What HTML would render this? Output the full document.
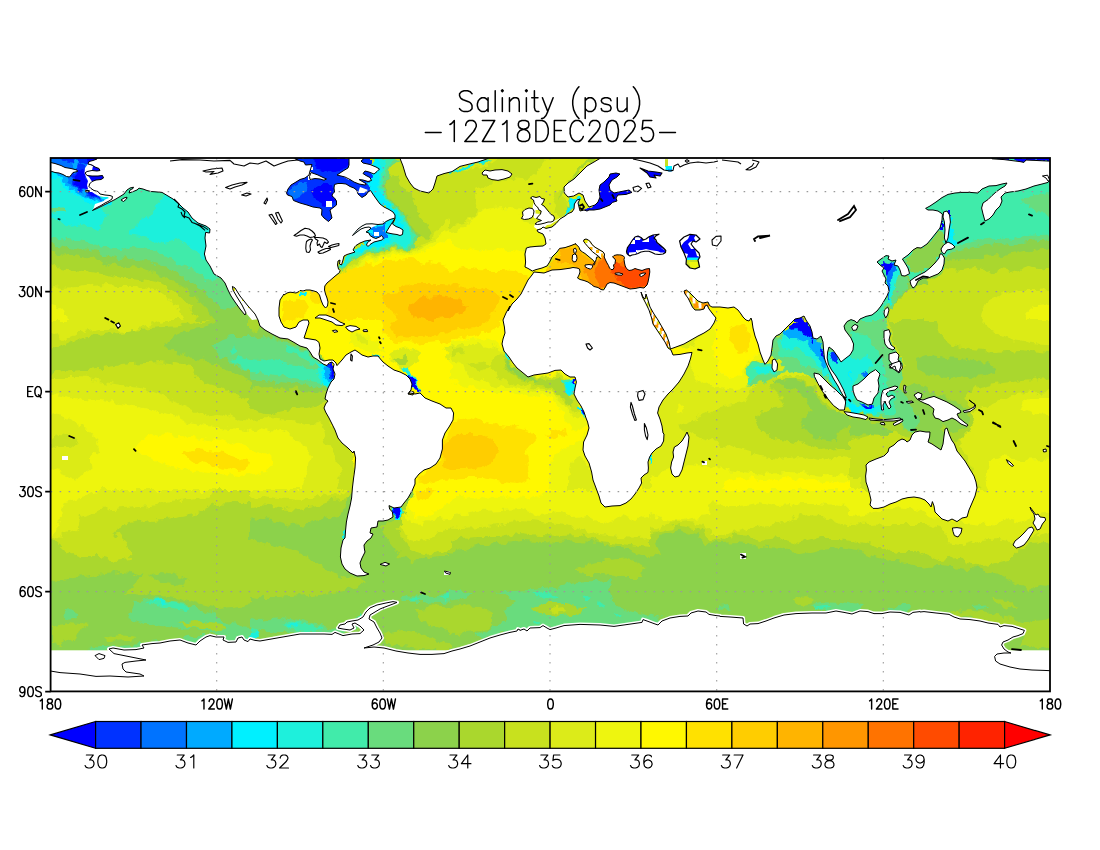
<!DOCTYPE html>
<html><head><meta charset="utf-8"><title>Salinity (psu)</title>
<style>html,body{margin:0;padding:0;background:#fff;font-family:"Liberation Sans",sans-serif}svg{display:block}</style></head><body>
<svg width="1100" height="850" viewBox="0 0 1100 850">
<rect width="1100" height="850" fill="#fff"/>
<defs><clipPath id="plot"><rect x="50.6" y="158.0" width="999.4" height="533.4"/></clipPath></defs>
<g clip-path="url(#plot)">
<defs><filter id="jag" x="0" y="0" width="1100" height="850" filterUnits="userSpaceOnUse"><feTurbulence type="fractalNoise" baseFrequency="0.11" numOctaves="3" seed="7" result="n"/><feDisplacementMap in="SourceGraphic" in2="n" scale="10" xChannelSelector="R" yChannelSelector="G"/></filter></defs>
<g filter="url(#jag)">
<defs>
<clipPath id="t0"><rect x="30" y="140" width="220" height="180"/></clipPath>
<clipPath id="t1"><rect x="250" y="140" width="200" height="180"/></clipPath>
<clipPath id="t2"><rect x="450" y="140" width="200" height="180"/></clipPath>
<clipPath id="t3"><rect x="650" y="140" width="200" height="180"/></clipPath>
<clipPath id="t4"><rect x="850" y="140" width="220" height="180"/></clipPath>
<clipPath id="t5"><rect x="30" y="320" width="220" height="170"/></clipPath>
<clipPath id="t6"><rect x="250" y="320" width="200" height="170"/></clipPath>
<clipPath id="t7"><rect x="450" y="320" width="200" height="170"/></clipPath>
<clipPath id="t8"><rect x="650" y="320" width="200" height="170"/></clipPath>
<clipPath id="t9"><rect x="850" y="320" width="220" height="170"/></clipPath>
<clipPath id="t10"><rect x="30" y="490" width="220" height="180"/></clipPath>
<clipPath id="t11"><rect x="250" y="490" width="200" height="180"/></clipPath>
<clipPath id="t12"><rect x="450" y="490" width="200" height="180"/></clipPath>
<clipPath id="t13"><rect x="650" y="490" width="200" height="180"/></clipPath>
<clipPath id="t14"><rect x="850" y="490" width="220" height="180"/></clipPath>
</defs>
<g clip-path="url(#t0)">
<rect x="25" y="133" width="250" height="212" fill="#41ebaa"/>
<polygon points="130.0,234.0 136.0,226.0 144.0,218.0 152.0,212.0 160.0,202.0 164.0,193.0 180.0,193.0 220.0,230.0 216.0,242.0 212.0,258.0 208.0,262.0 200.0,254.0 194.0,250.0 188.0,246.0 178.0,240.0 168.0,242.0 158.0,244.0 148.0,238.0 140.0,236.0" fill="#1ef0dc"/>
<polygon points="50.0,174.0 58.0,177.0 62.0,184.0 70.0,190.0 80.0,195.0 90.0,201.0 100.0,208.0 108.0,211.0 106.0,218.0 104.0,226.0 94.0,230.0 84.0,224.0 76.0,227.0 68.0,226.0 60.0,220.0 50.0,218.0 40.0,218.0 40.0,174.0" fill="#1ef0dc"/>
<polygon points="51.0,207.0 64.0,206.4 65.0,212.4 52.0,213.6" fill="#69dc7d"/>
<polygon points="40.0,154.0 92.0,154.0 100.0,176.0 100.0,196.0 110.0,198.0 108.0,205.0 98.0,207.0 88.0,201.6 80.0,197.0 70.0,192.0 62.0,186.0 58.0,179.0 50.0,175.0 40.0,175.0" fill="#00f0ff"/>
<polygon points="40.0,154.0 92.0,154.0 98.0,176.0 100.0,195.0 106.0,200.0 100.0,203.6 90.0,199.0 80.0,194.0 70.0,188.0 62.0,182.0 58.0,174.0 52.0,170.0 40.0,166.0" fill="#00aaff"/>
<polygon points="48.0,154.0 92.0,154.0 98.0,178.0 100.0,195.0 102.0,200.0 94.0,200.0 86.0,195.0 78.0,189.0 70.0,184.0 64.0,178.0 62.0,172.0 56.0,166.0 48.0,162.0" fill="#0073ff"/>
<polygon points="48.0,154.0 90.0,154.0 86.0,162.0 78.0,164.0 70.0,162.0 60.0,160.0 52.0,158.0" fill="#0032ff"/>
<polygon points="70.0,174.0 76.0,168.0 83.0,164.0 89.0,170.0 90.0,180.0 92.0,190.0 100.0,195.6 100.0,199.0 93.0,198.0 85.0,193.0 77.0,188.0 72.0,182.0" fill="#0032ff"/>
<polygon points="74.0,177.0 80.0,171.0 85.0,169.0 88.0,180.0 90.0,190.0 98.0,195.0 98.0,198.0 92.0,196.0 84.0,191.0 77.0,186.0 74.0,182.0" fill="#0000ff"/>
<polygon points="73.0,158.4 80.0,160.0 79.0,169.0 74.0,172.0" fill="#00aaff"/>
<polygon points="85.0,154.0 107.0,154.0 107.0,190.0 100.0,193.0 92.0,186.0 89.0,174.0" fill="#0000ff"/>
<polygon points="40.0,238.0 50.0,238.0 60.0,239.0 76.0,241.0 92.0,244.0 108.0,248.0 120.0,250.0 132.0,248.0 148.0,250.0 160.0,254.0 172.0,258.0 184.0,266.0 196.0,272.0 206.0,278.0 212.0,282.0 216.0,278.0 260.0,278.0 260.0,330.0 40.0,330.0" fill="#69dc7d"/>
<polygon points="40.0,244.0 50.0,244.0 60.0,245.6 76.0,248.0 92.0,251.0 108.0,256.0 120.0,259.0 132.0,258.0 148.0,261.0 160.0,265.0 172.0,270.0 184.0,278.0 196.0,286.0 206.0,294.0 216.0,302.0 224.0,308.0 232.0,310.0 237.0,304.0 260.0,304.0 260.0,330.0 40.0,330.0" fill="#8cd24b"/>
<polygon points="40.0,251.0 50.0,251.0 60.0,254.0 76.0,256.0 92.0,259.0 108.0,264.0 120.0,267.0 132.0,267.0 148.0,270.0 160.0,274.0 172.0,280.0 184.0,288.0 196.0,298.0 206.0,308.0 214.0,320.0 214.0,330.0 40.0,330.0" fill="#aad72d"/>
<polygon points="40.0,262.0 50.0,262.0 60.0,268.0 76.0,270.0 92.0,272.0 108.0,275.0 120.0,278.0 132.0,278.0 148.0,280.0 160.0,283.0 172.0,290.0 184.0,300.0 192.0,310.0 198.0,320.0 198.0,330.0 40.0,330.0" fill="#c8e11e"/>
<polygon points="40.0,288.0 50.0,288.0 60.0,289.0 76.0,288.0 92.0,286.0 108.0,285.0 120.0,286.0 132.0,286.0 148.0,288.0 160.0,292.0 172.0,300.0 180.0,310.0 184.0,320.0 184.0,330.0 40.0,330.0" fill="#dceb19"/>
<polygon points="40.0,304.0 50.0,304.0 58.0,306.0 66.0,312.0 68.0,320.0 68.0,330.0 40.0,330.0" fill="#eef50f"/>
<polygon points="232.0,286.0 240.0,294.0 248.0,304.0 260.0,314.0 260.0,290.0" fill="#c8e11e"/>
</g>
<g clip-path="url(#t1)">
<rect x="225" y="133" width="250" height="212" fill="#c8e11e"/>
<polygon points="285.0,156.0 372.0,156.0 372.0,186.0 368.0,193.0 360.0,198.0 340.0,224.0 320.0,224.0 285.0,204.0" fill="#0032ff"/>
<polygon points="287.0,192.0 290.0,187.0 298.0,181.0 304.0,179.6 309.0,180.0 311.0,172.0 313.0,169.0 313.0,156.0 349.0,156.0 349.0,164.0 344.0,170.0 338.0,175.0 344.0,177.0 349.0,180.0 356.0,185.0 360.0,187.0 368.0,190.0 364.0,193.0 358.0,193.0 354.0,189.0 348.0,185.0 340.0,182.0 333.0,183.0 332.4,190.0 334.0,195.0 337.0,201.0 336.0,207.0 332.4,210.0 332.0,216.0 329.0,220.4 325.0,218.0 321.6,213.6 321.0,208.0 316.0,206.0 310.0,203.0 302.0,201.0 294.0,199.0 289.0,196.0" fill="#0032ff"/>
<polygon points="288.0,192.0 292.0,186.0 300.0,182.0 308.0,182.0 306.0,190.0 300.0,196.0 294.0,198.0" fill="#0073ff"/>
<polygon points="312.0,190.0 320.0,184.0 332.0,184.0 333.0,196.0 336.0,202.0 328.0,206.0 320.0,204.0 314.0,198.0" fill="#0000ff"/>
<polygon points="313.0,156.0 349.0,156.0 349.0,164.0 344.0,170.0 334.0,172.0 324.0,170.0 314.0,168.0" fill="#0000ff"/>
<polygon points="384.0,176.0 392.0,174.0 400.0,182.0 406.0,190.0 412.0,196.0 416.0,206.0 420.0,216.0 428.0,226.0 432.0,234.0 428.0,238.0 420.0,236.0 414.0,228.0 408.0,218.0 402.0,210.0 394.0,204.0 388.0,196.0 385.0,186.0" fill="#aad72d"/>
<polygon points="380.0,170.0 388.0,172.0 386.0,186.0 389.0,197.0 395.0,205.0 403.0,211.0 409.0,219.0 415.0,229.0 421.0,237.0 416.0,240.0 410.0,234.0 404.0,224.0 398.0,216.0 391.0,209.0 385.0,202.0 381.0,190.0 380.0,180.0" fill="#8cd24b"/>
<polygon points="460.0,210.0 452.0,216.0 444.0,222.0 436.0,230.0 432.0,238.0 424.0,244.0 416.0,248.0 410.0,252.0 400.0,250.0 388.0,251.0 378.0,254.0 368.0,257.0 358.0,262.0 350.0,268.0 344.0,274.0 320.0,330.0 470.0,330.0 470.0,210.0" fill="#dceb19"/>
<polygon points="470.0,224.0 460.0,224.0 452.0,228.0 444.0,232.0 436.0,238.0 430.0,244.0 420.0,248.0 412.0,253.0 400.0,252.0 388.0,253.0 378.0,256.0 368.0,259.0 360.0,264.0 352.0,270.0 346.0,276.0 320.0,330.0 470.0,330.0" fill="#eef50f"/>
<polygon points="470.0,238.0 460.0,238.0 448.0,240.0 436.0,244.0 428.0,249.0 420.0,252.0 412.0,256.0 400.0,255.0 388.0,256.0 378.0,259.0 370.0,262.0 362.0,267.0 354.0,273.0 348.0,278.0 320.0,330.0 470.0,330.0" fill="#fff800"/>
<polygon points="470.0,270.0 460.0,270.0 448.0,266.0 436.0,264.0 424.0,262.0 412.0,260.0 400.0,259.0 388.0,260.0 378.0,263.0 370.0,267.0 362.0,272.0 355.0,278.0 348.0,284.0 340.0,290.0 332.0,296.0 328.0,302.0 328.0,330.0 470.0,330.0" fill="#ffe100"/>
<polygon points="376.0,158.4 400.0,158.4 398.0,164.0 390.0,168.0 387.0,176.0 385.0,188.0 388.0,198.0 394.0,206.0 402.0,212.0 408.0,220.0 414.0,230.0 419.0,238.0 416.0,246.0 410.0,250.0 400.0,248.0 388.0,249.0 378.0,252.0 366.0,254.0 356.0,259.0 348.0,265.0 342.0,272.0 338.0,270.0 352.0,250.0 368.0,242.0 384.0,238.0 396.0,219.0 378.0,200.0 368.0,190.0 378.0,170.0" fill="#69dc7d"/>
<polygon points="376.0,158.4 396.0,158.4 390.0,165.0 385.0,172.0 383.0,182.0 384.0,192.0 389.0,201.0 396.0,209.0 404.0,216.0 410.0,226.0 415.0,236.0 414.0,244.0 408.0,248.0 400.0,246.0 388.0,247.0 378.0,250.0 366.0,252.0 356.0,257.0 348.0,263.0 343.0,269.0 338.0,270.0 352.0,250.0 368.0,242.0 384.0,238.0 396.0,219.0 378.0,200.0 368.0,190.0 378.0,170.0" fill="#41ebaa"/>
<polygon points="376.0,158.4 386.0,158.4 383.0,168.0 381.0,180.0 382.0,191.0 387.0,200.0 394.0,208.0 402.0,216.0 408.0,226.0 412.0,236.0 410.0,243.0 404.0,246.0 396.0,244.0 388.0,245.0 378.0,248.0 366.0,250.0 356.0,255.0 349.0,260.0 344.0,266.0 338.0,270.0 352.0,250.0 368.0,242.0 384.0,238.0 396.0,219.0 378.0,200.0 368.0,190.0 378.0,170.0" fill="#1ef0dc"/>
<polygon points="374.0,158.4 380.0,158.4 379.0,170.0 378.0,182.0 380.0,192.0 386.0,201.0 393.0,209.0 400.0,218.0 403.0,228.0 398.0,230.0 394.0,219.0 378.0,200.0 368.0,190.0 370.0,180.0" fill="#00f0ff"/>
<polygon points="368.0,244.0 380.0,241.0 388.0,238.0 392.0,242.0 384.0,245.0 376.0,247.0 368.0,250.0 360.0,252.0 356.0,250.0" fill="#00f0ff"/>
<polygon points="352.0,222.0 392.0,218.0 394.0,236.0 368.0,244.0 352.0,238.0" fill="#00f0ff"/>
<polygon points="370.0,227.0 385.0,226.0 385.0,238.0 372.0,238.0" fill="#0073ff"/>
<polygon points="270.0,288.0 328.0,288.0 328.0,330.0 270.0,330.0" fill="#fff800"/>
<polygon points="284.0,302.0 300.0,298.0 308.0,304.0 306.0,316.0 292.0,320.0 282.0,320.0" fill="#ffe100"/>
<polygon points="300.0,290.8 306.0,290.8 305.6,294.8 301.0,295.2" fill="#00f0ff"/>
<polygon points="240.0,288.0 262.0,288.0 262.0,330.0 240.0,330.0" fill="#aad72d"/>
</g>
<g clip-path="url(#t2)">
<rect x="425" y="133" width="250" height="212" fill="#dceb19"/>
<polygon points="440.0,174.0 452.0,172.0 464.0,170.0 480.0,168.0 492.0,162.0 500.0,156.0 540.0,156.0 544.0,166.0 536.0,174.0 524.0,180.0 512.0,178.0 500.0,182.0 488.0,183.0 476.0,190.0 478.0,202.0 476.0,214.0 464.0,224.0 452.0,226.0 440.0,228.0" fill="#c8e11e"/>
<polygon points="552.0,196.0 560.0,190.0 564.0,198.0 568.0,208.0 560.0,218.0 554.0,214.0 556.0,204.0" fill="#c8e11e"/>
<polygon points="592.0,162.0 600.0,158.4 592.0,156.0 580.0,168.0 572.0,178.0 568.0,184.0 560.0,190.0 558.0,198.0 564.0,192.0 570.0,184.0 580.0,172.0" fill="#aad72d"/>
<polygon points="440.0,171.0 452.0,169.0 462.0,166.0 474.0,162.4 486.0,158.4 492.0,158.4 490.0,161.0 478.0,165.0 466.0,169.0 454.0,172.4 440.0,175.0" fill="#41ebaa"/>
<polygon points="440.0,172.4 452.0,170.4 462.0,167.6 474.0,163.6 486.0,159.2 487.0,160.4 476.0,164.4 464.0,168.4 452.0,171.6 440.0,174.0" fill="#00f0ff"/>
<polygon points="570.0,198.0 580.0,197.0 579.0,204.4 571.0,211.0 564.0,217.0 561.0,215.0 567.0,208.4" fill="#69dc7d"/>
<polygon points="572.0,198.0 580.0,198.0 578.0,204.0 570.0,210.0 564.0,216.0 562.0,214.0 568.0,208.0" fill="#00f0ff"/>
<polygon points="440.0,234.0 452.0,232.0 464.0,228.0 474.0,218.0 482.0,210.0 492.0,208.0 506.0,207.0 520.0,210.0 522.0,220.0 534.0,225.0 540.0,234.0 546.0,240.0 546.0,246.0 528.0,247.0 524.0,254.0 526.0,270.0 536.0,270.0 520.0,294.0 504.0,330.0 440.0,330.0" fill="#eef50f"/>
<polygon points="440.0,243.0 452.0,244.4 468.0,249.0 484.0,251.0 500.0,249.0 512.0,251.0 524.0,254.0 525.0,268.0 532.0,272.0 520.0,294.0 504.0,330.0 440.0,330.0" fill="#fff800"/>
<polygon points="440.0,272.0 456.0,270.0 472.0,268.0 488.0,270.0 504.0,270.0 520.0,272.0 528.0,278.0 524.0,288.0 518.0,298.0 510.0,308.0 504.0,330.0 440.0,330.0" fill="#ffe100"/>
<polygon points="534.0,269.0 548.0,267.0 560.0,248.0 580.0,241.0 588.0,239.0 660.0,268.0 660.0,290.0 576.0,290.0 576.0,273.0 534.0,274.4" fill="#ffcd00"/>
<polygon points="534.0,269.0 546.0,268.0 546.0,273.0 534.0,273.6" fill="#fff800"/>
<polygon points="560.0,250.0 572.0,248.0 584.0,254.0 596.0,262.0 660.0,262.0 660.0,290.0 580.0,290.0 580.0,270.0 568.0,264.0 558.0,262.0" fill="#ffb400"/>
<polygon points="584.0,268.0 596.0,259.0 606.0,254.0 660.0,254.0 660.0,290.0 592.0,290.0" fill="#ff9600"/>
<polygon points="594.0,270.0 600.0,258.0 612.0,262.0 660.0,262.0 660.0,290.0 600.0,288.0" fill="#ff7300"/>
<polygon points="610.0,270.0 616.0,262.0 624.0,266.0 660.0,268.0 660.0,286.0 632.0,288.0 620.0,282.0" fill="#ff4b00"/>
<polygon points="586.0,240.4 589.6,240.4 589.6,244.4 586.0,244.4" fill="#eef50f"/>
<polygon points="584.0,212.0 594.0,204.0 598.0,196.0 598.0,182.0 608.0,170.0 624.0,170.0 640.0,188.0 636.0,196.0 616.0,204.0 600.0,212.0" fill="#0000ff"/>
<polygon points="646.0,171.0 660.0,170.0 660.0,178.0 648.0,176.0" fill="#0000ff"/>
</g>
<g clip-path="url(#t3)">
<rect x="625" y="133" width="250" height="212" fill="#dceb19"/>
<polygon points="638.0,244.0 640.0,238.0 648.0,236.0 658.0,234.0 652.0,240.0 660.0,244.0 666.0,250.0 665.0,253.0 658.0,254.0 648.0,252.0 640.0,252.4 636.0,251.0" fill="#0000ff"/>
<polygon points="679.6,241.0 683.0,237.0 689.0,234.4 696.0,235.0 700.0,240.0 695.0,241.0 692.0,244.0 694.0,249.0 699.0,253.0 700.0,257.0 698.0,260.0 686.0,259.6 684.0,253.0 681.0,247.0" fill="#0000ff"/>
<polygon points="688.0,257.0 699.0,257.0 698.4,260.0 687.0,260.0" fill="#00f0ff"/>
<polygon points="686.4,259.6 698.4,259.6 699.6,267.0 695.0,269.6 689.0,268.0 685.6,263.0" fill="#c8e11e"/>
<polygon points="689.0,262.0 698.0,262.0 698.4,268.0 694.0,269.6 690.0,267.0" fill="#eef50f"/>
<polygon points="684.0,291.0 687.0,290.0 690.0,294.0 694.0,298.0 698.0,302.0 704.0,304.0 709.0,303.0 710.0,306.0 706.0,309.0 700.0,310.0 694.0,308.0 691.0,303.0 688.0,298.0 685.0,294.0" fill="#ff9600"/>
<polygon points="709.0,304.0 720.0,307.0 734.0,306.0 744.0,314.0 748.0,330.0 708.0,330.0 708.0,308.0" fill="#fff800"/>
<polygon points="640.0,290.0 646.0,298.0 652.0,308.0 658.0,320.0 652.0,322.0 646.0,310.0 640.0,298.0" fill="#ff9600"/>
<polygon points="636.0,268.0 652.0,268.0 652.0,290.0 636.0,290.0" fill="#ff4b00"/>
<polygon points="647.0,171.0 662.0,171.6 660.0,176.0 652.0,177.0" fill="#0000ff"/>
<polygon points="665.0,158.4 670.0,158.4 670.0,167.0 665.0,167.0" fill="#8cd24b"/>
<polygon points="664.0,167.0 671.0,166.0 670.0,170.0 663.6,170.8" fill="#00f0ff"/>
<polygon points="792.0,316.0 804.0,315.0 806.0,330.0 790.0,330.0" fill="#0000ff"/>
</g>
<g clip-path="url(#t4)">
<rect x="825" y="133" width="250" height="212" fill="#41ebaa"/>
<polygon points="886.0,278.0 900.0,274.0 910.0,280.0 928.0,278.0 944.0,266.0 952.0,270.0 900.0,330.0 880.0,330.0 886.0,310.0" fill="#8cd24b"/>
<polygon points="900.0,302.0 908.0,290.0 924.0,284.4 940.0,274.4 948.0,270.0 952.0,278.0 900.0,330.0 892.0,330.0" fill="#aad72d"/>
<polygon points="948.0,250.0 952.0,248.0 964.0,244.0 980.0,240.0 996.0,238.0 1012.0,240.0 1028.0,236.0 1040.0,235.0 1060.0,234.0 1060.0,330.0 880.0,330.0 890.0,310.0 900.0,298.0 908.0,290.0 924.0,284.0 940.0,274.0" fill="#69dc7d"/>
<polygon points="949.0,252.0 964.0,249.0 980.0,246.0 996.0,244.0 1012.0,245.0 1028.0,242.0 1060.0,240.0 1060.0,330.0 880.0,330.0 890.0,310.0 900.0,298.0 908.0,290.0 924.0,284.0 940.0,274.0 944.0,262.0" fill="#8cd24b"/>
<polygon points="946.0,258.0 960.0,262.0 976.0,258.0 992.0,256.0 1008.0,254.0 1028.0,250.0 1060.0,248.0 1060.0,330.0 880.0,330.0 890.0,310.0 900.0,298.0 908.0,290.0 924.0,284.0 940.0,274.0 944.0,266.0" fill="#aad72d"/>
<polygon points="944.0,268.0 960.0,270.0 976.0,268.0 988.0,274.0 1000.0,270.0 1012.0,272.0 1028.0,266.0 1040.0,270.0 1060.0,266.0 1060.0,330.0 886.0,330.0 890.0,310.0 900.0,298.0 908.0,290.0 924.0,284.0 940.0,274.0" fill="#c8e11e"/>
<polygon points="980.0,330.0 984.0,306.0 992.0,298.0 1004.0,294.0 1020.0,290.0 1036.0,290.0 1060.0,288.0 1060.0,330.0" fill="#dceb19"/>
<polygon points="1020.0,330.0 1028.0,310.0 1040.0,304.0 1060.0,302.0 1060.0,330.0" fill="#eef50f"/>
<polygon points="906.0,260.0 916.0,248.0 928.0,244.0 940.0,230.0 944.0,234.0 942.0,254.0 934.0,266.0 920.0,272.0 910.0,274.0" fill="#8cd24b"/>
<polygon points="892.0,262.0 902.0,270.0 904.0,278.0 910.0,282.0 906.0,290.0 898.0,298.0 892.0,308.0 886.0,310.0 888.0,290.0 886.0,278.0" fill="#69dc7d"/>
<polygon points="888.0,262.0 898.0,266.0 900.0,274.0 896.0,282.0 893.0,294.0 890.0,306.0 886.0,308.0 888.0,290.0 885.6,278.0" fill="#1ef0dc"/>
<polygon points="887.0,263.0 894.0,265.0 895.0,272.0 891.0,278.0 890.0,290.0 888.0,302.0 886.4,302.0 888.0,288.0 885.6,276.0" fill="#0073ff"/>
<polygon points="883.0,260.0 890.0,262.0 892.4,268.0 888.0,270.0 885.6,274.0 883.6,268.0" fill="#0000ff"/>
<polygon points="948.0,216.0 952.0,218.0 953.0,230.0 954.0,238.0 958.0,242.0 954.0,246.0 949.0,242.0 949.6,230.0" fill="#00f0ff"/>
<polygon points="944.0,211.0 949.0,211.0 949.0,215.0 944.0,215.0" fill="#0000ff"/>
<polygon points="941.0,223.0 943.0,223.0 943.0,230.0 941.0,230.0" fill="#0000ff"/>
<polygon points="1020.0,198.0 1032.0,196.0 1060.0,195.0 1060.0,216.0 1038.0,214.0 1032.0,208.0 1024.0,202.0" fill="#69dc7d"/>
<polygon points="992.0,156.0 1060.0,156.0 1060.0,159.6 1020.0,161.0 1000.0,159.6" fill="#0000ff"/>
</g>
<g clip-path="url(#t5)">
<rect x="25" y="295" width="250" height="220" fill="#eef50f"/>
<polygon points="40.0,320.0 260.0,320.0 260.0,432.0 230.0,428.0 206.0,426.0 188.0,422.0 176.0,416.0 152.0,410.0 128.0,404.0 100.0,400.0 70.0,398.0 50.0,394.0 40.0,394.0" fill="#dceb19"/>
<polygon points="40.0,332.0 50.0,331.0 64.0,339.0 80.0,333.0 100.0,329.0 120.0,329.0 130.0,333.0 140.0,327.0 152.0,323.0 164.0,320.0 260.0,320.0 260.0,424.0 240.0,420.0 220.0,414.0 204.0,416.0 188.0,408.0 164.0,396.0 140.0,388.0 116.0,384.0 80.0,378.0 50.0,378.0 40.0,378.0" fill="#c8e11e"/>
<polygon points="40.0,356.0 70.0,342.0 90.0,336.0 120.0,332.0 150.0,328.0 180.0,326.0 210.0,320.0 260.0,320.0 260.0,406.0 240.0,396.0 220.0,388.0 204.0,384.0 200.0,378.0 190.0,366.0 160.0,362.0 130.0,364.0 100.0,368.0 70.0,370.0 40.0,374.0" fill="#aad72d"/>
<polygon points="180.0,332.0 200.0,328.0 216.0,320.0 260.0,320.0 260.0,386.0 240.0,378.0 230.0,372.0 220.0,366.0 204.0,360.0 188.0,358.0 176.0,352.0 164.0,348.0 170.0,340.0" fill="#8cd24b"/>
<polygon points="210.0,346.0 220.0,340.0 232.0,336.0 246.0,336.0 260.0,334.0 260.0,374.0 248.0,370.0 236.0,366.0 226.0,360.0 216.0,352.0" fill="#69dc7d"/>
<polygon points="230.0,360.0 240.0,358.0 252.0,360.0 260.0,360.0 260.0,371.0 250.0,369.0 238.0,365.0" fill="#41ebaa"/>
<polygon points="229.0,350.0 234.0,345.0 236.0,350.0 232.0,354.0" fill="#41ebaa"/>
<polygon points="40.0,416.0 56.0,414.0 72.0,420.0 86.0,428.0 96.0,440.0 100.0,452.0 90.0,458.0 92.0,468.0 78.0,478.0 64.0,474.0 52.0,468.0 40.0,460.0" fill="#dceb19"/>
<polygon points="50.0,438.0 62.0,434.0 74.0,438.0 80.0,444.0 70.0,448.0 58.0,448.0 50.0,446.0" fill="#c8e11e"/>
<polygon points="136.0,448.0 144.0,438.0 160.0,434.0 180.0,436.0 200.0,438.0 220.0,440.0 240.0,444.0 260.0,448.0 260.0,474.0 240.0,476.0 220.0,474.0 200.0,472.0 180.0,468.0 160.0,462.0 144.0,456.0" fill="#fff800"/>
<polygon points="182.0,454.0 192.0,450.0 208.0,451.0 224.0,453.0 240.0,458.0 250.0,462.0 248.0,469.0 236.0,470.0 220.0,466.0 204.0,463.0 190.0,461.0" fill="#ffe100"/>
</g>
<g clip-path="url(#t6)">
<rect x="225" y="295" width="250" height="220" fill="#fff800"/>
<polygon points="240.0,320.0 258.0,320.0 280.0,338.0 306.0,352.0 324.0,366.0 334.0,380.0 326.0,404.0 336.0,432.0 352.0,448.0 356.0,500.0 240.0,500.0" fill="#dceb19"/>
<polygon points="240.0,432.0 260.0,428.0 280.0,432.0 300.0,440.0 310.0,456.0 306.0,472.0 300.0,500.0 240.0,500.0" fill="#eef50f"/>
<polygon points="240.0,448.0 256.0,450.0 270.0,456.0 274.0,464.0 264.0,472.0 248.0,475.0 240.0,474.0" fill="#fff800"/>
<polygon points="240.0,320.0 264.0,320.0 284.0,336.0 310.0,350.0 328.0,364.0 338.0,380.0 332.0,404.0 344.0,416.0 328.0,420.0 308.0,424.0 288.0,420.0 268.0,418.0 252.0,420.0 240.0,424.0" fill="#c8e11e"/>
<polygon points="326.0,416.0 336.0,432.0 352.0,448.0 356.0,500.0 336.0,500.0 340.0,472.0 334.0,456.0 324.0,440.0 320.0,424.0" fill="#c8e11e"/>
<polygon points="240.0,320.0 264.0,320.0 284.0,336.0 310.0,350.0 328.0,364.0 338.0,380.0 332.0,400.0 328.0,402.0 312.0,406.0 296.0,408.0 280.0,412.0 264.0,414.0 252.0,410.0 240.0,408.0" fill="#aad72d"/>
<polygon points="240.0,326.0 252.0,332.0 260.0,328.0 264.0,320.0 284.0,336.0 310.0,350.0 328.0,364.0 338.0,380.0 334.0,392.0 328.0,393.0 312.0,392.0 296.0,390.0 280.0,388.0 264.0,386.0 252.0,388.0 240.0,386.0" fill="#8cd24b"/>
<polygon points="240.0,342.0 252.0,338.0 264.0,336.0 276.0,338.0 288.0,342.0 300.0,348.0 312.0,354.0 326.0,364.0 334.0,380.0 328.0,388.0 312.0,386.0 296.0,384.0 280.0,382.0 264.0,380.0 252.0,380.0 240.0,378.0" fill="#69dc7d"/>
<polygon points="240.0,360.0 252.0,358.0 268.0,360.0 284.0,363.0 300.0,366.0 316.0,368.0 328.0,372.0 330.0,384.0 316.0,382.0 300.0,379.0 284.0,376.0 268.0,374.0 252.0,372.0 240.0,370.0" fill="#41ebaa"/>
<polygon points="286.0,346.0 300.0,350.0 312.0,356.0 320.0,363.0 312.0,363.0 300.0,358.0 290.0,353.0" fill="#41ebaa"/>
<polygon points="316.0,363.0 324.0,365.0 330.0,372.0 329.0,386.0 324.0,387.0 320.0,378.0 317.0,370.0" fill="#1ef0dc"/>
<polygon points="319.0,365.0 326.0,365.0 331.0,374.0 328.0,385.0 325.0,386.0 323.0,376.0" fill="#00f0ff"/>
<polygon points="323.0,367.0 328.0,366.0 333.0,376.0 330.0,382.0 327.0,380.0" fill="#00aaff"/>
<polygon points="326.0,365.0 330.0,363.0 335.0,378.0 331.0,380.0 329.0,372.0" fill="#0032ff"/>
<polygon points="328.0,363.0 331.6,362.4 335.0,374.0 332.4,378.0" fill="#0000ff"/>
<polygon points="348.0,332.0 364.0,334.0 376.0,340.0 384.0,350.0 372.0,352.0 360.0,348.0 348.0,342.0" fill="#eef50f"/>
<polygon points="356.0,336.0 368.0,337.0 368.0,344.0 358.0,343.0" fill="#dceb19"/>
<polygon points="384.0,320.0 460.0,320.0 460.0,344.0 440.0,342.0 420.0,340.0 404.0,332.0 392.0,328.0" fill="#ffe100"/>
<polygon points="388.0,354.0 400.0,350.0 412.0,348.0 420.0,354.0 416.0,364.0 408.0,370.0 400.0,368.0 392.0,362.0" fill="#dceb19"/>
<polygon points="394.0,360.0 402.0,355.0 408.0,357.0 404.0,365.0 398.0,365.0" fill="#aad72d"/>
<polygon points="444.0,348.0 460.0,344.0 460.0,360.0 448.0,358.0" fill="#dceb19"/>
<polygon points="402.0,368.0 408.0,370.0 414.0,376.0 421.0,389.0 419.0,393.0 410.0,389.0 406.0,378.0" fill="#1ef0dc"/>
<polygon points="407.0,375.0 412.0,376.0 416.0,382.0 420.0,390.0 416.0,392.0 412.0,388.0 409.0,382.0" fill="#0000ff"/>
<polygon points="372.0,354.0 380.0,355.0 381.0,358.0 374.0,357.0" fill="#00f0ff"/>
</g>
<g clip-path="url(#t7)">
<rect x="425" y="295" width="250" height="220" fill="#fff800"/>
<polygon points="440.0,320.0 500.0,320.0 500.0,326.0 484.0,332.0 468.0,336.0 452.0,338.0 440.0,336.0" fill="#ffe100"/>
<polygon points="440.0,342.0 456.0,340.0 472.0,338.0 488.0,340.0 500.0,346.0 508.0,356.0 520.0,366.0 532.0,376.0 548.0,375.0 564.0,372.0 576.0,380.0 578.0,396.0 584.0,408.0 588.0,424.0 580.0,432.0 568.0,424.0 560.0,408.0 552.0,400.0 540.0,396.0 524.0,394.0 508.0,392.0 492.0,392.0 476.0,388.0 460.0,384.0 448.0,376.0 440.0,372.0" fill="#eef50f"/>
<polygon points="446.0,348.0 460.0,344.0 476.0,344.0 490.0,346.0 502.0,352.0 512.0,362.0 524.0,372.0 536.0,378.0 552.0,377.0 564.0,375.0 574.0,382.0 576.0,394.0 581.0,408.0 580.0,420.0 572.0,416.0 564.0,404.0 556.0,396.0 544.0,392.0 528.0,390.0 512.0,388.0 496.0,386.0 480.0,380.0 468.0,376.0 464.0,366.0 452.0,360.0" fill="#dceb19"/>
<polygon points="490.0,366.0 500.0,354.0 506.0,356.0 516.0,366.0 528.0,376.0 544.0,378.0 560.0,375.0 572.0,382.0 574.0,394.0 579.0,408.0 576.0,414.0 568.0,406.0 560.0,396.0 548.0,390.0 532.0,387.0 516.0,384.0 500.0,380.0" fill="#c8e11e"/>
<polygon points="448.0,350.0 460.0,347.0 464.0,354.0 452.0,357.0" fill="#c8e11e"/>
<polygon points="466.0,364.0 480.0,361.0 492.0,366.0 480.0,370.0" fill="#c8e11e"/>
<polygon points="502.0,358.0 508.0,360.0 518.0,369.0 528.0,377.0 544.0,380.0 558.0,378.0 568.0,384.0 570.0,394.0 574.0,404.0 571.0,408.0 564.0,398.0 552.0,388.0 536.0,384.0 520.0,380.0 508.0,372.0" fill="#aad72d"/>
<polygon points="504.0,360.0 510.0,363.0 520.0,372.0 528.0,378.0 540.0,381.0 534.0,383.0 520.0,378.0 510.0,370.0" fill="#8cd24b"/>
<polygon points="501.0,350.0 506.0,353.0 511.0,361.0 507.0,361.0 503.6,356.0" fill="#1ef0dc"/>
<polygon points="560.0,380.0 570.0,378.0 576.0,380.0 576.0,392.0 570.0,393.0 564.0,388.0" fill="#41ebaa"/>
<polygon points="564.0,384.0 572.0,380.0 576.0,384.0 575.0,392.0 569.0,391.0" fill="#00f0ff"/>
<polygon points="571.0,377.0 576.0,378.0 577.0,388.0 574.0,386.0" fill="#0000ff"/>
<polygon points="577.6,407.6 583.2,408.8 584.4,414.4 579.6,414.4" fill="#00f0ff"/>
<polygon points="580.0,410.0 583.6,410.4 583.0,413.6 580.4,413.2" fill="#0000ff"/>
<polygon points="552.0,456.0 568.0,448.0 580.0,440.0 588.0,432.0 584.0,448.0 592.0,468.0 598.0,500.0 548.0,500.0 550.0,472.0" fill="#eef50f"/>
<polygon points="570.0,464.0 580.0,458.0 588.0,464.0 594.0,480.0 596.0,500.0 568.0,500.0 568.0,476.0" fill="#dceb19"/>
<polygon points="640.0,450.0 660.0,450.0 660.0,500.0 640.0,500.0" fill="#dceb19"/>
<polygon points="648.6,455.6 651.6,455.6 651.2,460.4 648.8,460.4" fill="#00f0ff"/>
<polygon points="652.0,320.0 660.0,320.0 660.0,332.0 654.0,330.0" fill="#ff9600"/>
</g>
<g clip-path="url(#t8)">
<rect x="625" y="295" width="250" height="220" fill="#dceb19"/>
<polygon points="670.0,348.0 692.0,346.0 708.0,328.0 716.0,320.0 752.0,320.0 762.0,360.0 750.0,360.0 744.0,372.0 748.0,386.0 736.0,390.0 720.0,388.0 708.0,386.0 698.0,380.0 692.0,368.0 690.0,358.0 674.0,357.0" fill="#eef50f"/>
<polygon points="670.0,348.0 690.0,347.0 690.0,356.0 674.0,356.0" fill="#fff800"/>
<polygon points="716.0,320.0 752.0,320.0 760.0,350.0 752.0,358.0 744.0,366.0 740.0,376.0 728.0,378.0 720.0,370.0 716.0,356.0 714.0,340.0" fill="#fff800"/>
<polygon points="730.0,330.0 738.0,324.0 748.0,326.0 750.0,340.0 748.0,352.0 738.0,354.0 732.0,346.0" fill="#ffe100"/>
<polygon points="652.0,320.0 662.0,328.0 668.0,340.0 670.0,348.0 666.0,346.0 660.0,334.0 652.0,324.0" fill="#ff9600"/>
<polygon points="676.0,426.0 692.0,420.0 708.0,414.0 720.0,408.0 736.0,404.0 748.0,400.0 752.0,388.0 768.0,378.0 784.0,376.0 860.0,376.0 860.0,460.0 840.0,458.0 820.0,460.0 800.0,456.0 780.0,458.0 760.0,456.0 740.0,450.0 720.0,444.0 700.0,438.0 684.0,432.0" fill="#c8e11e"/>
<polygon points="756.0,416.0 768.0,408.0 784.0,406.0 780.0,396.0 770.0,386.0 780.0,378.0 800.0,378.0 814.0,388.0 824.0,402.0 836.0,412.0 860.0,416.0 860.0,448.0 840.0,448.0 820.0,450.0 804.0,444.0 788.0,442.0 772.0,438.0 760.0,428.0" fill="#aad72d"/>
<polygon points="772.0,380.0 792.0,378.0 810.0,386.0 816.0,396.0 826.0,408.0 840.0,414.0 860.0,414.0 860.0,424.0 848.0,426.0 838.0,432.0 836.0,442.0 820.0,440.0 808.0,432.0 800.0,424.0 804.0,416.0 812.0,410.0 806.0,400.0 796.0,390.0 780.0,386.0" fill="#8cd24b"/>
<polygon points="772.0,340.0 784.0,332.0 800.0,320.0 860.0,320.0 860.0,404.0 844.0,408.0 828.0,380.0 820.0,384.0 812.0,376.0 796.0,372.0 780.0,374.0 768.0,380.0 752.0,386.0 746.0,380.0 746.0,370.0 752.0,360.0 764.0,363.0 772.0,366.0 780.0,370.0 784.0,368.0 778.0,360.0 772.0,356.0" fill="#69dc7d"/>
<polygon points="776.0,342.0 788.0,332.0 800.0,324.0 812.0,332.0 820.0,344.0 824.0,360.0 820.0,372.0 808.0,366.0 796.0,360.0 788.0,358.0 780.0,356.0" fill="#41ebaa"/>
<polygon points="746.0,370.0 752.0,362.0 764.0,363.0 772.0,367.0 780.0,371.0 772.0,374.0 760.0,376.0 752.0,380.0 748.0,386.0" fill="#41ebaa"/>
<polygon points="780.0,340.0 792.0,330.0 808.0,332.0 820.0,346.0 826.0,360.0 832.0,372.0 826.0,376.0 816.0,364.0 804.0,352.0 792.0,348.0 784.0,350.0" fill="#1ef0dc"/>
<polygon points="752.0,368.0 760.0,366.0 770.0,368.0 778.0,371.0 770.0,373.0 760.0,374.0" fill="#1ef0dc"/>
<polygon points="784.0,332.0 796.0,324.0 808.0,328.0 816.0,338.0 824.0,350.0 828.0,364.0 824.0,368.0 816.0,354.0 806.0,342.0 796.0,338.0 788.0,338.0" fill="#00aaff"/>
<polygon points="788.0,326.0 798.0,320.0 806.0,320.0 812.0,330.0 816.0,340.0 812.0,342.0 806.0,334.0 798.0,330.0 792.0,331.0" fill="#0000ff"/>
<polygon points="820.0,346.0 824.0,352.0 825.0,360.0 821.0,356.0" fill="#0000ff"/>
<polygon points="826.0,352.0 840.0,350.0 860.0,340.0 860.0,414.0 848.0,410.0 844.0,400.0 828.0,376.0" fill="#1ef0dc"/>
<polygon points="844.0,324.0 860.0,324.0 860.0,360.0 852.0,356.0" fill="#69dc7d"/>
<polygon points="828.0,352.0 834.0,350.0 840.0,358.0 838.0,364.0 832.0,362.0" fill="#0032ff"/>
<polygon points="640.0,500.0 640.0,480.0 660.0,472.0 690.0,464.0 716.0,468.0 740.0,472.0 764.0,474.0 788.0,472.0 812.0,474.0 836.0,476.0 860.0,478.0 860.0,500.0" fill="#eef50f"/>
<polygon points="716.0,500.0 724.0,480.0 744.0,478.0 764.0,480.0 788.0,478.0 812.0,480.0 836.0,482.0 860.0,484.0 860.0,500.0" fill="#fff800"/>
<polygon points="676.0,404.0 683.0,403.6 684.4,413.0 677.0,414.0" fill="#eef50f"/>
<polygon points="649.0,456.0 652.0,456.0 652.0,462.4 649.0,462.4" fill="#00f0ff"/>
</g>
<g clip-path="url(#t9)">
<rect x="825" y="295" width="250" height="220" fill="#c8e11e"/>
<polygon points="980.0,320.0 1060.0,320.0 1060.0,346.0 1032.0,344.0 1012.0,340.0 992.0,332.0" fill="#dceb19"/>
<polygon points="960.0,416.0 980.0,408.0 1000.0,400.0 1016.0,394.0 1060.0,390.0 1060.0,500.0 980.0,500.0 976.0,476.0 968.0,460.0 960.0,444.0 964.0,428.0" fill="#dceb19"/>
<polygon points="1020.0,402.0 1032.0,398.0 1060.0,398.0 1060.0,416.0 1036.0,414.0 1024.0,410.0" fill="#eef50f"/>
<polygon points="988.0,460.0 1004.0,456.0 1020.0,460.0 1060.0,458.0 1060.0,500.0 984.0,500.0" fill="#eef50f"/>
<polygon points="888.0,320.0 936.0,320.0 940.0,336.0 952.0,346.0 972.0,350.0 996.0,352.0 1020.0,350.0 1060.0,354.0 1060.0,376.0 1032.0,380.0 1012.0,382.0 992.0,384.0 976.0,388.0 964.0,396.0 968.0,408.0 976.0,420.0 968.0,432.0 960.0,440.0 948.0,448.0 932.0,450.0 920.0,444.0 908.0,436.0 892.0,432.0 876.0,434.0 860.0,438.0 840.0,442.0 840.0,416.0 860.0,414.0 880.0,408.0 900.0,386.0 904.0,368.0 896.0,344.0" fill="#aad72d"/>
<polygon points="916.0,360.0 928.0,356.0 948.0,358.0 968.0,360.0 988.0,363.0 996.0,370.0 988.0,376.0 968.0,377.0 948.0,378.0 928.0,376.0 918.0,370.0" fill="#8cd24b"/>
<polygon points="906.0,386.0 920.0,384.0 932.0,392.0 952.0,400.0 964.0,408.0 970.0,420.0 964.0,430.0 952.0,432.0 944.0,426.0 936.0,438.0 928.0,448.0 916.0,440.0 908.0,428.0 900.0,416.0 902.0,400.0" fill="#8cd24b"/>
<polygon points="840.0,420.0 860.0,418.0 880.0,424.0 892.0,432.0 880.0,436.0 860.0,434.0 840.0,438.0" fill="#8cd24b"/>
<polygon points="840.0,320.0 886.0,320.0 892.0,340.0 900.0,360.0 904.0,376.0 900.0,388.0 908.0,400.0 916.0,412.0 920.0,424.0 912.0,432.0 904.0,428.0 896.0,420.0 880.0,416.0 860.0,414.0 840.0,414.0" fill="#69dc7d"/>
<polygon points="840.0,340.0 852.0,332.0 866.0,336.0 872.0,346.0 880.0,356.0 886.0,370.0 888.0,386.0 896.0,400.0 892.0,414.0 880.0,416.0 860.0,414.0 840.0,414.0" fill="#41ebaa"/>
<polygon points="840.0,358.0 856.0,360.0 868.0,356.0 874.0,366.0 860.0,374.0 852.0,386.0 852.0,400.0 860.0,408.0 876.0,408.0 884.0,400.0 888.0,406.0 880.0,414.0 860.0,414.0 840.0,412.0" fill="#1ef0dc"/>
<polygon points="840.0,366.0 852.0,372.0 850.0,386.0 848.0,400.0 856.0,406.0 872.0,406.0 880.0,408.0 870.0,412.0 852.0,411.0 840.0,410.0" fill="#00f0ff"/>
<polygon points="860.0,402.0 868.0,404.0 876.0,404.0 875.0,408.0 866.0,408.0" fill="#0073ff"/>
<polygon points="860.0,374.0 868.0,370.0 872.0,374.0 864.0,378.0" fill="#0073ff"/>
<polygon points="863.0,403.6 872.0,405.0 873.0,407.6 865.0,406.4" fill="#0000ff"/>
<polygon points="928.0,432.0 944.0,432.0 944.0,450.0 934.0,448.0" fill="#8cd24b"/>
<polygon points="840.0,460.0 866.0,460.0 866.0,500.0 840.0,500.0" fill="#c8e11e"/>
<polygon points="840.0,476.0 860.0,476.0 860.0,500.0 840.0,500.0" fill="#dceb19"/>
</g>
<g clip-path="url(#t10)">
<rect x="25" y="465" width="250" height="212" fill="#aad72d"/>
<polygon points="40.0,490.0 216.0,490.0 212.0,496.0 180.0,500.0 152.0,506.0 124.0,508.0 100.0,510.0 80.0,516.0 76.0,530.0 64.0,534.0 60.0,538.0 40.0,540.0" fill="#dceb19"/>
<polygon points="40.0,490.0 260.0,490.0 260.0,502.0 240.0,502.0 216.0,504.0 196.0,514.0 176.0,518.0 152.0,520.0 128.0,524.0 112.0,532.0 126.0,540.0 128.0,550.0 132.0,558.0 116.0,560.0 100.0,556.0 80.0,556.0 64.0,550.0 52.0,540.0 40.0,540.0" fill="#c8e11e"/>
<polygon points="40.0,490.0 216.0,490.0 212.0,496.0 180.0,500.0 152.0,506.0 124.0,508.0 100.0,510.0 80.0,516.0 76.0,530.0 64.0,534.0 60.0,538.0 40.0,540.0" fill="#dceb19"/>
<polygon points="40.0,490.0 100.0,490.0 80.0,498.0 64.0,502.0 60.0,514.0 58.0,530.0 50.0,536.0 40.0,538.0" fill="#eef50f"/>
<polygon points="40.0,584.0 60.0,580.0 84.0,576.0 104.0,573.0 124.0,572.0 144.0,576.0 132.0,586.0 124.0,596.0 140.0,594.0 160.0,596.0 180.0,599.0 200.0,604.0 220.0,608.0 240.0,606.0 260.0,602.0 260.0,670.0 40.0,670.0" fill="#8cd24b"/>
<polygon points="150.0,576.0 160.0,572.0 176.0,574.0 190.0,580.0 180.0,586.0 164.0,584.0" fill="#8cd24b"/>
<polygon points="128.0,618.0 134.0,602.0 148.0,598.0 164.0,599.0 180.0,602.0 196.0,608.0 212.0,614.0 224.0,622.0 240.0,626.0 260.0,628.0 260.0,642.0 240.0,638.0 220.0,634.0 200.0,630.0 180.0,628.0 160.0,626.0 144.0,624.0" fill="#69dc7d"/>
<polygon points="62.0,616.0 70.0,610.0 78.0,612.0 74.0,618.0 66.0,619.0" fill="#69dc7d"/>
<polygon points="86.0,648.0 120.0,646.0 160.0,642.0 180.0,640.0 192.0,636.0 260.0,636.0 260.0,642.0 180.0,644.0 140.0,650.0 88.0,651.0" fill="#69dc7d"/>
<polygon points="146.0,602.0 160.0,599.0 176.0,602.0 190.0,607.0 188.0,610.0 172.0,608.0 156.0,606.0" fill="#41ebaa"/>
<polygon points="152.0,601.0 162.0,599.0 168.0,602.0 160.0,604.0" fill="#1ef0dc"/>
<polygon points="246.0,636.0 260.0,634.0 260.0,640.0 248.0,640.0" fill="#1ef0dc"/>
<polygon points="52.0,626.0 68.0,622.0 90.0,624.0 80.0,630.0 76.0,638.0 60.0,644.0 52.0,642.0" fill="#aad72d"/>
<polygon points="104.0,638.0 120.0,635.0 136.0,637.0 128.0,641.0 108.0,642.0" fill="#aad72d"/>
<polygon points="176.0,622.0 196.0,620.0 220.0,624.0 226.0,628.0 212.0,630.0 192.0,628.0" fill="#aad72d"/>
</g>
<g clip-path="url(#t11)">
<rect x="225" y="465" width="250" height="212" fill="#8cd24b"/>
<polygon points="240.0,490.0 352.0,490.0 348.0,502.0 340.0,516.0 324.0,518.0 308.0,524.0 292.0,526.0 272.0,520.0 252.0,518.0 240.0,530.0" fill="#aad72d"/>
<polygon points="240.0,536.0 264.0,544.0 290.0,550.0 308.0,556.0 320.0,566.0 336.0,574.0 352.0,578.0 368.0,580.0 360.0,586.0 340.0,592.0 320.0,594.0 300.0,596.0 280.0,598.0 260.0,598.0 240.0,596.0" fill="#aad72d"/>
<polygon points="380.0,526.0 392.0,520.0 400.0,510.0 406.0,502.0 460.0,502.0 460.0,556.0 440.0,556.0 424.0,558.0 412.0,562.0 400.0,556.0 392.0,546.0 384.0,536.0" fill="#aad72d"/>
<polygon points="416.0,610.0 432.0,606.0 452.0,608.0 460.0,610.0 460.0,628.0 448.0,630.0 432.0,626.0 420.0,620.0" fill="#aad72d"/>
<polygon points="384.0,634.0 400.0,630.0 420.0,634.0 440.0,642.0 460.0,644.0 460.0,650.0 420.0,648.0 388.0,644.0" fill="#aad72d"/>
<polygon points="240.0,490.0 352.0,490.0 349.0,498.0 332.0,500.0 316.0,506.0 300.0,510.0 280.0,508.0 260.0,506.0 240.0,508.0" fill="#c8e11e"/>
<polygon points="398.0,530.0 404.0,516.0 410.0,506.0 460.0,506.0 460.0,550.0 440.0,552.0 424.0,554.0 412.0,550.0 404.0,540.0" fill="#c8e11e"/>
<polygon points="240.0,490.0 348.0,490.0 340.0,494.0 320.0,496.0 300.0,500.0 280.0,498.0 260.0,496.0 240.0,498.0" fill="#dceb19"/>
<polygon points="400.0,526.0 406.0,512.0 412.0,504.0 460.0,504.0 460.0,530.0 448.0,532.0 432.0,536.0 420.0,542.0 410.0,540.0" fill="#dceb19"/>
<polygon points="404.0,510.0 410.0,498.0 414.0,490.0 460.0,490.0 460.0,520.0 448.0,518.0 432.0,520.0 420.0,526.0 410.0,524.0" fill="#eef50f"/>
<polygon points="408.0,506.0 412.0,494.0 416.0,490.0 460.0,490.0 460.0,502.0 448.0,504.0 436.0,510.0 424.0,516.0 414.0,518.0" fill="#fff800"/>
<polygon points="414.0,496.0 418.0,490.0 436.0,490.0 428.0,498.0 420.0,502.0" fill="#ffe100"/>
<polygon points="392.0,507.0 402.0,506.0 404.0,514.0 400.0,520.0 393.0,519.0" fill="#00f0ff"/>
<polygon points="393.0,508.0 400.0,507.0 401.0,515.0 398.0,518.0 393.6,517.0" fill="#0000ff"/>
<polygon points="240.0,618.0 260.0,620.0 280.0,618.0 300.0,620.0 320.0,626.0 336.0,630.0 352.0,622.0 364.0,614.0 368.0,618.0 352.0,630.0 336.0,634.0 300.0,634.0 260.0,630.0 240.0,634.0" fill="#69dc7d"/>
<polygon points="400.0,598.0 412.0,594.0 432.0,596.0 460.0,592.0 460.0,602.0 440.0,603.0 420.0,602.0 404.0,602.0" fill="#69dc7d"/>
<polygon points="280.0,624.0 296.0,622.0 312.0,626.0 324.0,630.0 308.0,631.0 292.0,630.0" fill="#41ebaa"/>
<polygon points="240.0,630.0 252.0,628.0 260.0,634.0 252.0,639.0 240.0,639.0" fill="#41ebaa"/>
<polygon points="356.0,618.0 364.0,613.0 366.0,618.0 360.0,622.0" fill="#41ebaa"/>
<polygon points="408.0,598.0 416.0,596.0 420.0,599.0 412.0,601.0" fill="#41ebaa"/>
<polygon points="440.0,597.0 448.0,595.0 452.0,598.0 444.0,600.0" fill="#41ebaa"/>
<polygon points="286.0,624.4 296.0,623.6 300.0,626.0 290.0,627.0" fill="#1ef0dc"/>
<polygon points="246.0,633.0 256.0,632.0 258.0,638.0 248.0,639.0" fill="#1ef0dc"/>
<polygon points="343.0,530.0 346.0,530.0 346.0,542.0 343.0,542.0" fill="#1ef0dc"/>
</g>
<g clip-path="url(#t12)">
<rect x="425" y="465" width="250" height="212" fill="#8cd24b"/>
<polygon points="440.0,490.0 660.0,490.0 660.0,556.0 640.0,556.0 628.0,550.0 612.0,546.0 592.0,542.0 576.0,541.0 560.0,543.0 540.0,542.0 520.0,541.0 500.0,544.0 480.0,545.0 460.0,550.0 448.0,554.0 440.0,554.0" fill="#aad72d"/>
<polygon points="440.0,490.0 660.0,490.0 660.0,548.0 640.0,546.0 620.0,544.0 600.0,542.0 580.0,535.0 560.0,536.0 540.0,535.0 520.0,533.0 500.0,537.0 480.0,537.0 460.0,538.0 448.0,542.0 440.0,536.0" fill="#c8e11e"/>
<polygon points="440.0,490.0 660.0,490.0 660.0,536.0 640.0,538.0 620.0,537.0 600.0,535.0 580.0,528.0 560.0,524.0 540.0,522.0 520.0,520.0 500.0,526.0 480.0,527.0 460.0,528.0 440.0,527.0" fill="#dceb19"/>
<polygon points="440.0,490.0 660.0,490.0 660.0,520.0 648.0,516.0 636.0,520.0 624.0,514.0 612.0,520.0 600.0,524.0 588.0,516.0 576.0,518.0 560.0,513.0 540.0,515.0 520.0,509.0 500.0,510.0 480.0,511.0 460.0,516.0 440.0,519.0" fill="#eef50f"/>
<polygon points="440.0,490.0 560.0,490.0 544.0,494.0 524.0,499.0 500.0,497.0 480.0,496.0 460.0,498.0 440.0,499.0" fill="#fff800"/>
<polygon points="572.0,570.0 588.0,564.0 608.0,560.0 628.0,558.0 644.0,566.0 642.0,578.0 624.0,578.0 604.0,574.0 584.0,574.0" fill="#aad72d"/>
<polygon points="440.0,591.0 456.0,590.0 472.0,594.0 460.0,599.0 440.0,602.0" fill="#69dc7d"/>
<polygon points="494.0,594.0 512.0,591.0 532.0,590.0 552.0,588.0 572.0,584.0 592.0,581.0 612.0,580.0 608.0,590.0 612.0,602.0 624.0,610.0 640.0,614.0 660.0,618.0 660.0,630.0 516.0,630.0 480.0,638.0 476.0,634.0 496.0,626.0 506.0,618.0 504.0,610.0 516.0,602.0 506.0,597.0" fill="#69dc7d"/>
<polygon points="440.0,608.0 460.0,606.0 480.0,607.0 492.0,614.0 492.0,626.0 476.0,632.0 456.0,634.0 440.0,633.0" fill="#aad72d"/>
<polygon points="530.0,608.0 544.0,604.0 568.0,604.0 584.0,608.0 580.0,614.0 560.0,616.0 540.0,615.0" fill="#aad72d"/>
<polygon points="552.0,608.0 564.0,607.0 567.0,612.0 556.0,613.6" fill="#c8e11e"/>
<polygon points="531.0,594.0 544.0,592.0 556.0,594.0 560.0,597.0 548.0,598.0 536.0,597.0" fill="#41ebaa"/>
<polygon points="580.0,594.0 588.0,593.0 592.0,598.0 584.0,598.0" fill="#41ebaa"/>
<polygon points="596.0,602.0 604.0,601.0 607.0,606.0 600.0,607.0" fill="#41ebaa"/>
<polygon points="442.0,597.0 448.0,596.0 449.0,599.0 443.0,600.0" fill="#41ebaa"/>
<polygon points="612.0,614.0 620.0,613.6 621.0,616.0 613.0,616.4" fill="#41ebaa"/>
<polygon points="532.0,622.0 542.0,621.0 543.0,624.0 533.0,624.4" fill="#41ebaa"/>
</g>
<g clip-path="url(#t13)">
<rect x="625" y="465" width="250" height="212" fill="#8cd24b"/>
<polygon points="640.0,490.0 860.0,490.0 860.0,552.0 840.0,548.0 820.0,550.0 800.0,554.0 780.0,548.0 760.0,546.0 740.0,542.0 720.0,543.0 706.0,544.0 700.0,536.0 680.0,530.0 660.0,534.0 656.0,542.0 660.0,554.0 648.0,558.0 640.0,558.0" fill="#aad72d"/>
<polygon points="640.0,570.0 644.0,572.0 642.0,580.0 640.0,582.0" fill="#aad72d"/>
<polygon points="640.0,490.0 860.0,490.0 860.0,542.0 840.0,538.0 820.0,538.0 800.0,544.0 780.0,538.0 760.0,540.0 748.0,536.0 734.0,534.0 724.0,540.0 710.0,542.0 704.0,530.0 680.0,526.0 660.0,530.0 648.0,536.0 640.0,540.0" fill="#c8e11e"/>
<polygon points="640.0,490.0 860.0,490.0 860.0,526.0 840.0,524.0 820.0,516.0 800.0,514.0 788.0,522.0 768.0,526.0 748.0,528.0 734.0,532.0 720.0,536.0 710.0,536.0 706.0,524.0 688.0,522.0 668.0,524.0 652.0,530.0 640.0,532.0" fill="#dceb19"/>
<polygon points="640.0,490.0 860.0,490.0 860.0,506.0 840.0,507.0 820.0,504.0 800.0,504.0 780.0,506.0 760.0,502.0 740.0,506.0 724.0,506.0 710.0,502.0 708.0,516.0 692.0,518.0 672.0,522.0 656.0,518.0 646.0,510.0 640.0,508.0" fill="#eef50f"/>
<polygon points="640.0,614.0 652.0,616.0 662.0,618.0 658.0,624.0 640.0,622.0" fill="#69dc7d"/>
<polygon points="718.0,606.0 728.0,605.0 732.0,609.0 720.0,610.0" fill="#69dc7d"/>
<polygon points="808.0,606.0 820.0,602.0 840.0,603.0 860.0,606.0 860.0,610.0 840.0,610.0 820.0,611.0" fill="#69dc7d"/>
<polygon points="812.0,607.0 824.0,605.0 832.0,608.0 816.0,609.6" fill="#41ebaa"/>
<polygon points="792.0,598.0 806.0,596.0 818.0,600.0 804.0,604.0 794.0,603.0" fill="#aad72d"/>
</g>
<g clip-path="url(#t14)">
<rect x="825" y="465" width="250" height="212" fill="#8cd24b"/>
<polygon points="840.0,490.0 1060.0,490.0 1060.0,586.0 1040.0,584.0 1028.0,590.0 1016.0,584.0 1000.0,576.0 980.0,570.0 960.0,568.0 940.0,566.0 920.0,568.0 900.0,562.0 880.0,558.0 860.0,552.0 840.0,548.0" fill="#aad72d"/>
<polygon points="948.0,612.0 968.0,610.0 992.0,614.0 1012.0,618.0 1024.0,622.0 1060.0,618.0 1060.0,650.0 1020.0,646.0 1026.0,630.0 1000.0,624.0 980.0,620.0 960.0,616.0" fill="#aad72d"/>
<polygon points="992.0,599.0 1008.0,600.0 1020.0,608.0 1008.0,608.0 996.0,604.0" fill="#aad72d"/>
<polygon points="840.0,490.0 1060.0,490.0 1060.0,540.0 1032.0,542.0 1020.0,550.0 1008.0,560.0 992.0,564.0 976.0,566.0 960.0,558.0 940.0,560.0 920.0,552.0 900.0,552.0 880.0,548.0 860.0,542.0 840.0,540.0" fill="#c8e11e"/>
<polygon points="840.0,490.0 1060.0,490.0 1060.0,530.0 1032.0,536.0 1020.0,542.0 1000.0,538.0 980.0,540.0 960.0,546.0 948.0,544.0 946.0,530.0 928.0,524.0 908.0,524.0 888.0,524.0 868.0,525.0 852.0,524.0 840.0,523.0" fill="#dceb19"/>
<polygon points="840.0,490.0 1060.0,490.0 1060.0,510.0 1036.0,516.0 1020.0,522.0 1004.0,518.0 992.0,526.0 980.0,524.0 968.0,522.0 940.0,520.0 920.0,510.0 900.0,506.0 880.0,512.0 860.0,516.0 840.0,514.0" fill="#eef50f"/>
<polygon points="840.0,604.0 852.0,605.0 864.0,606.0 860.0,610.0 840.0,610.0" fill="#69dc7d"/>
<polygon points="886.0,608.0 900.0,606.0 912.0,606.0 908.0,612.0 892.0,612.4" fill="#69dc7d"/>
<polygon points="972.0,605.0 984.0,604.0 988.0,608.0 978.0,609.0" fill="#69dc7d"/>
<polygon points="890.0,610.0 900.0,609.6 901.0,612.4 891.0,612.8" fill="#1ef0dc"/>
</g>
<polygon points="340.0,274.0 360.0,266.0 388.0,262.0 420.0,268.0 444.0,272.0 480.0,270.0 508.0,276.0 520.0,286.0 510.0,302.0 500.0,316.0 492.0,330.0 472.0,336.0 452.0,338.0 436.0,342.0 416.0,344.0 396.0,342.0 386.0,334.0 380.0,316.0 360.0,310.0 340.0,306.0 310.0,300.0 310.0,280.0" fill="#ffe100"/>
<polygon points="382.0,296.0 400.0,290.0 416.0,284.0 444.0,284.0 468.0,286.0 492.0,290.0 500.0,300.0 492.0,316.0 480.0,326.0 460.0,330.0 444.0,334.0 428.0,336.0 412.0,338.0 396.0,336.0 390.0,326.0 398.0,318.0 386.0,306.0" fill="#ffcd00"/>
<polygon points="408.0,308.0 420.0,298.0 440.0,297.0 460.0,300.0 468.0,308.0 460.0,314.0 444.0,318.0 428.0,320.0 416.0,318.0 410.0,314.0" fill="#ffb400"/>
<polygon points="454.0,420.0 470.0,418.0 490.0,424.0 510.0,426.0 530.0,430.0 538.0,438.0 526.0,452.0 528.0,468.0 530.0,480.0 518.0,484.0 502.0,482.0 482.0,478.0 462.0,478.0 442.0,480.0 426.0,484.0 418.0,480.0 430.0,468.0 440.0,460.0 444.0,440.0 450.0,428.0" fill="#ffe100"/>
<polygon points="544.0,434.0 564.0,430.0 566.0,436.0 550.0,439.0" fill="#ffe100"/>
<polygon points="443.0,466.0 442.0,450.0 448.0,438.0 462.0,434.0 480.0,434.0 494.0,440.0 498.0,450.0 494.0,462.0 482.0,468.0 466.0,470.0 450.0,470.0" fill="#ffcd00"/>
</g>
<rect x="40" y="650.3" width="1020" height="60" fill="#fff"/>
<path d="M95.0 204.0 L101.0 202.0 L109.0 199.0 L115.0 196.5 L121.0 194.0 L125.0 192.0 L127.0 190.0 L124.0 194.0 L120.0 196.5 L115.0 199.5 L109.0 202.5 L103.0 205.5 L97.0 208.5 L93.0 210.0Z M85.0 168.0 L88.0 164.0 L89.5 164.5 L93.0 166.0 L92.0 170.5 L87.0 171.5 L85.0 173.0 L87.0 175.5 L89.0 177.0 L92.0 181.5 L89.5 184.0 L89.0 186.5 L91.0 188.5 L94.0 190.5 L98.0 191.5 L100.0 194.0 L105.0 195.0 L110.0 195.5 L109.0 197.0 L104.0 197.0 L99.0 196.0 L95.0 194.0 L92.0 192.0 L89.0 192.0 L85.0 192.0 L85.0 190.0 L88.0 189.0 L87.0 185.0 L88.0 181.0 L86.0 177.0 L84.5 173.0Z M105.0 195.0 L112.5 196.5 L112.0 199.0 L109.0 201.0 L105.0 203.0 L104.0 200.0 L109.0 198.0Z M585.0 241.0 L588.5 241.0 L591.5 244.5 L595.0 247.8 L599.0 250.2 L603.0 252.5 L604.0 255.0 L601.0 258.0 L598.5 256.0 L595.5 253.8 L592.5 251.5 L590.0 248.8 L587.5 246.0 L585.5 243.5Z M535.0 224.0 L541.0 224.0 L548.0 222.0 L553.5 221.0 L557.0 219.5 L562.0 217.0 L565.0 215.0 L559.0 219.5 L553.5 222.5 L550.5 224.5 L547.0 225.0 L545.0 227.0 L541.0 228.0 L537.5 229.5 L534.0 227.0Z M534.0 202.5 L535.5 205.5 L537.5 207.0 L539.0 210.0 L535.5 210.0 L535.5 213.5 L540.5 214.0 L538.5 216.0 L536.5 218.5 L534.0 218.0 L533.5 214.5 L534.0 211.0 L532.5 208.5 L533.0 205.0Z M352.5 235.5 L357.0 232.0 L361.0 229.0 L365.0 227.5 L369.0 227.0 L371.0 228.0 L378.0 224.5 L372.0 223.8 L366.0 224.0 L362.0 226.0 L358.0 229.0 L355.0 232.5Z M232.4 286.4 L235.0 288.0 L240.0 296.0 L248.0 306.0 L255.0 314.0 L260.0 319.0 L252.0 320.0 L246.0 313.0 L242.0 305.0 L237.0 297.0 L233.0 290.0Z M344.0 170.0 L349.0 170.0 L349.0 180.0 L344.0 177.0Z M360.0 187.0 L368.0 190.0 L364.0 193.0 L358.0 193.0Z M305.0 167.0 L313.0 167.0 L313.0 170.0 L305.0 170.0Z M308.0 172.0 L312.0 172.0 L312.0 180.0 L308.0 180.0Z M326.0 201.0 L332.0 201.0 L332.0 207.0 L326.0 207.0Z M645.2 298.9 L648.0 298.9 L648.0 302.3 L645.2 302.3Z M644.1 302.1 L646.9 302.1 L646.9 305.5 L644.1 305.5Z M648.5 305.3 L651.3 305.3 L651.3 308.7 L648.5 308.7Z M647.3 308.5 L650.1 308.5 L650.1 311.9 L647.3 311.9Z M651.8 311.7 L654.6 311.7 L654.6 315.1 L651.8 315.1Z M650.6 314.9 L653.4 314.9 L653.4 318.3 L650.6 318.3Z M655.1 318.1 L657.9 318.1 L657.9 321.5 L655.1 321.5Z M653.9 321.3 L656.7 321.3 L656.7 324.7 L653.9 324.7Z M658.3 324.5 L661.1 324.5 L661.1 327.9 L658.3 327.9Z M657.2 327.7 L660.0 327.7 L660.0 331.1 L657.2 331.1Z M661.6 330.9 L664.4 330.9 L664.4 334.3 L661.6 334.3Z M660.5 334.1 L663.3 334.1 L663.3 337.5 L660.5 337.5Z M664.9 337.3 L667.7 337.3 L667.7 340.7 L664.9 340.7Z M663.7 340.5 L666.5 340.5 L666.5 343.9 L663.7 343.9Z M668.2 343.7 L671.0 343.7 L671.0 347.1 L668.2 347.1Z M686.5 292.6 L689.3 292.6 L689.3 295.9 L686.5 295.9Z M686.7 295.1 L689.5 295.1 L689.5 298.4 L686.7 298.4Z M692.5 297.6 L695.3 297.6 L695.3 300.9 L692.5 300.9Z M692.7 300.1 L695.5 300.1 L695.5 303.4 L692.7 303.4Z M698.5 302.6 L701.3 302.6 L701.3 305.9 L698.5 305.9Z M698.7 305.1 L701.5 305.1 L701.5 308.4 L698.7 308.4Z M62.0 456.0 L68.0 456.0 L68.0 460.0 L62.0 460.0Z M702.0 461.0 L707.0 461.0 L707.0 465.0 L702.0 465.0Z M740.0 553.0 L746.0 553.0 L746.0 559.0 L740.0 559.0Z M444.0 571.0 L450.0 571.0 L450.0 575.0 L444.0 575.0Z M374.0 232.0 L379.0 232.0 L379.0 236.0 L374.0 236.0Z" fill="#fff"/>
<path d="M589.5 247.0 L592.5 247.0 L592.5 250.0 L589.5 250.0Z" fill="#ffb400"/>
<path d="M596.0 250.0 L599.0 250.0 L599.0 253.0 L596.0 253.0Z" fill="#ffb400"/>
<path d="M601.0 253.5 L603.0 253.5 L603.0 257.0 L601.0 257.0Z" fill="#ffb400"/>
<path d="M585.0 240.0 L587.5 240.0 L587.5 243.0 L585.0 243.0Z" fill="#eef50f"/>
<path d="M232.0 288.0 L235.0 288.0 L235.0 291.0 L232.0 291.0Z" fill="#eef50f"/>
<path d="M242.0 298.0 L244.4 298.0 L244.4 301.0 L242.0 301.0Z" fill="#eef50f"/>
<path d="M248.0 305.0 L251.0 305.0 L251.0 308.0 L248.0 308.0Z" fill="#eef50f"/>
<path d="M40.0 720.0 L50.4 671.0 L60.0 672.6 L80.0 674.0 L96.0 676.4 L110.0 676.0 L128.0 677.0 L144.0 676.0 L140.0 674.0 L126.0 672.0 L123.0 669.0 L122.0 664.0 L125.0 662.4 L136.0 661.0 L146.0 660.0 L136.0 658.0 L124.0 655.6 L114.0 653.6 L109.0 649.0 L113.0 648.0 L124.0 650.0 L136.0 649.6 L144.0 648.0 L142.0 645.0 L152.0 643.6 L160.0 643.0 L170.0 641.0 L180.0 640.0 L188.0 643.0 L196.0 645.0 L200.0 641.0 L206.0 637.0 L210.0 635.6 L216.0 637.0 L224.0 637.0 L223.0 640.0 L228.0 642.4 L236.0 642.0 L238.0 638.0 L242.0 637.0 L244.0 640.0 L248.0 641.6 L250.0 639.0 L255.0 640.4 L260.0 641.0 L300.0 634.0 L312.0 634.0 L324.0 634.0 L332.0 634.4 L335.0 632.4 L343.0 635.6 L352.0 634.0 L360.0 633.6 L364.0 630.0 L360.0 626.0 L355.0 623.0 L352.0 624.0 L354.0 628.0 L350.0 630.0 L343.0 629.0 L338.0 628.0 L340.0 625.0 L345.0 624.0 L347.0 622.0 L352.0 621.0 L358.0 620.0 L363.0 617.0 L366.0 612.0 L370.0 608.0 L377.0 605.0 L386.0 603.0 L393.0 601.6 L397.0 602.4 L392.0 604.4 L385.0 607.0 L380.0 609.0 L375.0 612.0 L370.0 615.0 L369.0 619.0 L374.0 622.0 L377.0 628.0 L380.0 633.0 L382.0 638.0 L379.0 642.0 L373.0 645.0 L364.0 648.0 L374.0 647.0 L384.0 648.0 L396.0 651.0 L408.0 653.0 L420.0 654.4 L432.0 654.4 L444.0 653.6 L452.0 651.0 L460.0 649.0 L470.0 646.0 L480.0 642.0 L490.0 638.0 L500.0 635.0 L510.0 632.4 L517.0 631.0 L518.0 629.0 L520.0 630.0 L520.0 630.4 L524.0 629.0 L527.0 631.0 L530.0 628.0 L540.0 627.6 L543.0 625.6 L547.0 628.0 L550.0 629.6 L556.0 628.0 L564.0 625.6 L580.0 624.4 L600.0 625.0 L614.0 626.4 L628.0 624.4 L642.0 622.4 L643.0 619.6 L647.0 621.0 L654.0 623.6 L658.0 625.0 L662.0 621.0 L670.0 618.0 L680.0 616.4 L688.0 616.0 L691.0 613.0 L698.0 611.0 L706.0 612.0 L709.0 614.4 L716.0 615.6 L720.0 616.0 L720.0 616.4 L730.0 617.0 L743.0 618.0 L743.6 624.0 L747.0 626.0 L750.0 624.0 L758.0 623.6 L766.0 621.0 L774.0 618.0 L784.0 615.0 L796.0 613.6 L812.0 613.0 L826.0 613.0 L836.0 611.0 L844.0 612.4 L852.0 614.0 L860.0 611.0 L868.0 611.6 L874.0 613.6 L882.0 613.6 L890.0 612.0 L900.0 612.4 L909.0 615.0 L913.0 612.4 L920.0 611.6 L920.0 612.0 L924.0 611.6 L936.0 613.0 L949.0 614.4 L954.0 617.0 L960.0 619.0 L970.0 619.6 L980.0 621.0 L988.0 623.0 L998.0 624.4 L1000.0 627.0 L1004.0 625.6 L1012.0 626.4 L1020.0 629.0 L1024.4 630.4 L1023.0 633.6 L1018.0 635.6 L1013.0 637.0 L1008.0 640.0 L1003.0 642.0 L1001.6 645.0 L1004.0 649.0 L1008.0 652.0 L1011.0 653.0 L1004.0 653.0 L997.0 654.0 L994.6 656.4 L995.6 661.0 L1000.0 664.0 L1010.0 667.0 L1020.0 669.0 L1032.0 670.0 L1044.0 670.4 L1060.0 671.2 L1060.0 720.0Z" fill="#fff" stroke="#fff" stroke-width="4" stroke-linejoin="round"/>
<path d="M97.0 140.0 L97.0 147.0 L97.0 159.0 L93.0 160.5 L89.0 161.5 L88.0 164.0 L92.0 165.0 L95.0 167.0 L99.0 168.5 L100.0 170.5 L97.0 171.0 L92.0 170.5 L87.0 171.5 L85.0 173.0 L87.0 175.5 L92.0 176.0 L98.0 176.0 L102.5 175.5 L103.5 178.0 L101.0 179.5 L96.0 180.0 L92.0 181.5 L89.5 184.0 L89.0 186.5 L91.0 188.5 L94.0 190.5 L98.0 191.5 L100.0 194.0 L105.0 195.0 L110.0 195.5 L112.5 196.5 L112.0 199.0 L109.0 201.0 L105.0 203.0 L101.0 205.5 L97.0 207.5 L93.5 209.5 L92.5 210.5 L97.0 208.5 L103.0 205.5 L109.0 202.5 L115.0 199.5 L120.0 196.5 L124.0 194.0 L127.0 190.0 L130.0 188.0 L133.5 187.2 L133.0 188.5 L130.0 190.0 L129.0 193.0 L132.0 192.0 L137.0 190.0 L139.0 188.2 L143.0 189.0 L147.0 190.5 L151.0 191.5 L155.0 191.8 L162.0 192.4 L168.0 196.0 L173.0 199.0 L178.0 203.0 L183.0 208.0 L188.0 212.0 L192.0 218.0 L198.0 223.0 L206.0 226.0 L210.0 229.0 L209.6 233.0 L205.6 232.4 L205.0 238.0 L206.0 246.0 L204.4 254.0 L206.0 260.0 L210.0 266.0 L214.0 274.0 L221.0 278.0 L225.0 283.0 L228.0 290.0 L231.0 296.0 L235.0 302.0 L240.0 309.0 L245.0 315.0 L246.0 313.0 L242.0 305.0 L237.0 297.0 L233.0 290.0 L232.4 286.4 L235.0 288.0 L240.0 296.0 L248.0 306.0 L255.0 314.0 L258.0 320.0 L260.0 326.0 L265.0 330.0 L272.0 334.0 L280.0 338.0 L288.0 339.0 L294.0 342.4 L300.0 346.0 L307.0 348.0 L310.0 352.0 L313.0 357.0 L318.0 360.0 L323.0 364.0 L327.0 365.6 L329.0 363.0 L332.0 362.0 L334.0 364.4 L333.0 369.0 L335.0 374.0 L334.0 379.0 L331.0 382.0 L328.0 388.0 L326.0 394.0 L325.0 399.0 L328.0 401.0 L325.6 404.0 L324.0 408.0 L325.6 412.0 L329.0 418.0 L332.0 424.0 L335.0 430.0 L338.0 438.0 L342.0 443.0 L348.0 448.0 L353.0 453.0 L354.0 451.0 L355.6 458.0 L355.0 468.0 L353.6 478.0 L352.4 488.0 L351.6 498.0 L350.0 506.0 L348.0 514.0 L346.4 522.0 L345.6 530.0 L345.0 538.0 L343.0 540.0 L341.0 548.0 L340.4 557.0 L342.0 564.0 L345.0 569.0 L350.0 573.0 L357.0 576.0 L364.0 575.6 L369.0 574.0 L364.0 572.0 L361.0 568.0 L360.0 563.0 L362.0 558.0 L365.0 552.0 L364.4 549.0 L364.0 545.0 L367.0 541.0 L371.0 538.0 L373.0 534.0 L370.0 533.0 L371.0 528.0 L377.0 527.0 L378.0 521.0 L383.0 521.0 L388.0 520.0 L393.0 517.0 L392.4 512.0 L389.6 509.0 L389.0 505.6 L394.0 508.0 L401.0 507.0 L404.0 503.0 L408.0 498.0 L412.0 491.0 L415.0 484.0 L415.0 479.0 L419.0 474.0 L424.0 470.0 L430.0 468.0 L436.0 464.0 L440.0 458.0 L442.4 449.0 L442.4 440.0 L445.0 433.0 L449.0 427.0 L453.0 420.0 L453.6 413.0 L451.0 408.0 L446.0 408.0 L440.0 404.0 L432.0 401.0 L425.0 398.0 L420.0 393.0 L415.0 394.0 L410.0 393.0 L408.0 394.0 L411.0 390.0 L412.0 384.0 L410.0 379.0 L406.0 375.0 L400.0 372.0 L394.0 370.0 L388.0 366.0 L383.0 362.0 L380.4 359.0 L378.0 356.0 L373.0 356.0 L368.0 357.0 L362.0 355.0 L358.0 352.0 L355.0 350.0 L351.0 352.0 L346.0 355.0 L342.0 360.0 L337.0 365.6 L336.0 363.0 L333.0 360.0 L329.0 360.0 L324.0 361.0 L320.0 359.0 L319.0 354.0 L320.0 348.0 L319.0 342.4 L316.0 340.0 L310.0 339.0 L304.0 338.0 L305.0 335.0 L307.0 329.0 L309.0 323.0 L308.0 320.0 L303.0 320.0 L299.0 322.0 L296.0 327.0 L290.0 329.0 L284.0 327.0 L281.0 322.0 L279.0 316.0 L279.0 308.0 L280.0 300.0 L284.0 294.0 L284.0 295.0 L287.0 293.0 L290.0 292.2 L293.0 292.5 L296.0 293.0 L299.0 291.5 L300.0 290.5 L303.0 291.0 L306.0 290.0 L310.0 290.0 L314.0 291.0 L317.0 292.0 L319.5 295.0 L321.0 300.0 L323.0 305.0 L325.5 308.0 L327.5 306.0 L328.0 302.0 L327.0 298.0 L325.5 294.0 L324.5 290.0 L324.8 286.0 L327.0 283.0 L330.0 280.5 L334.0 277.0 L337.0 274.5 L339.5 272.5 L340.0 270.5 L338.5 269.0 L337.5 265.0 L338.0 261.0 L340.0 260.0 L339.5 264.0 L341.5 265.0 L343.0 260.0 L344.0 256.0 L347.0 254.5 L352.0 253.0 L355.0 252.0 L353.0 250.0 L355.0 246.5 L356.0 245.5 L360.0 243.0 L365.0 241.0 L371.0 240.0 L367.5 242.5 L366.5 245.0 L368.0 246.5 L370.0 244.5 L374.0 242.0 L378.0 241.0 L382.0 240.0 L383.5 238.0 L381.5 235.5 L379.5 237.0 L376.0 238.5 L373.0 237.5 L370.0 235.5 L369.0 233.0 L366.0 232.0 L369.0 230.0 L371.0 228.0 L369.0 227.0 L365.0 227.5 L361.0 229.0 L357.0 232.0 L352.5 235.5 L355.0 232.5 L358.0 229.0 L362.0 226.0 L366.0 224.0 L372.0 223.8 L378.0 224.5 L383.0 224.0 L386.0 221.5 L390.0 219.5 L395.0 218.0 L395.0 215.0 L393.0 212.0 L389.0 209.5 L384.0 207.0 L380.0 204.0 L377.0 200.0 L373.5 195.0 L370.5 190.5 L368.0 192.0 L366.0 195.0 L362.0 197.5 L358.0 194.0 L357.0 190.5 L354.0 188.0 L350.0 186.5 L346.0 184.0 L342.0 183.5 L338.0 183.5 L334.5 184.5 L334.0 188.0 L334.5 192.0 L332.5 194.0 L332.0 196.0 L334.5 198.0 L336.5 201.0 L336.5 205.0 L334.0 207.0 L330.0 210.0 L330.5 212.0 L332.0 218.0 L328.5 221.5 L324.0 218.0 L321.5 215.0 L322.0 209.5 L320.0 208.0 L313.0 207.0 L307.0 205.0 L300.0 203.0 L293.5 200.5 L292.0 196.5 L287.5 195.0 L286.5 193.0 L288.0 189.0 L291.0 185.0 L296.0 182.0 L300.0 179.5 L305.0 178.0 L309.0 175.0 L310.0 171.0 L312.0 164.5 L305.5 165.0 L304.0 162.0 L300.0 161.0 L295.0 158.8 L295.0 145.0Z M395.0 218.5 L392.5 224.0 L396.0 226.5 L400.0 228.0 L403.0 230.0 L402.5 234.5 L400.0 235.5 L397.0 234.5 L392.0 233.8 L386.0 232.5 L390.0 226.0Z M311.0 172.5 L318.0 175.0 L323.0 177.5 L326.5 179.0 L324.0 180.2 L320.0 179.0 L315.0 178.5 L310.0 179.5 L309.5 176.5Z M349.0 145.0 L349.0 165.0 L348.0 168.0 L343.0 171.0 L337.0 175.0 L341.0 176.0 L345.0 177.0 L350.0 179.5 L354.0 182.0 L359.0 184.0 L365.0 185.0 L366.5 184.0 L364.0 182.5 L359.0 179.5 L363.0 180.0 L368.0 181.5 L371.5 180.5 L370.0 177.5 L366.0 175.5 L363.0 173.5 L365.0 171.0 L369.0 172.0 L374.0 174.0 L377.0 171.5 L379.5 169.0 L376.0 167.0 L370.0 164.5 L363.0 163.0 L361.0 161.0 L363.0 159.5 L363.0 145.0Z M400.0 140.0 L400.0 158.4 L403.0 166.0 L406.0 176.0 L410.0 183.0 L414.0 188.0 L420.0 191.0 L429.0 193.0 L433.0 189.0 L435.0 183.0 L437.0 176.0 L444.0 173.6 L452.0 171.6 L460.0 166.4 L468.0 164.4 L478.0 162.0 L485.0 159.6 L488.0 158.4 L488.0 140.0Z M40.0 162.5 L50.5 162.5 L55.0 163.5 L61.0 165.5 L65.0 167.5 L71.0 168.5 L77.0 170.0 L77.5 171.5 L73.0 172.5 L71.5 174.5 L69.5 177.0 L66.5 176.5 L63.0 174.5 L59.0 173.0 L55.0 172.5 L52.0 171.5 L50.5 172.0 L40.0 172.0Z M121.0 200.0 L124.0 198.0 L127.0 197.2 L126.5 199.0 L123.5 201.5Z M315.0 318.0 L319.0 315.0 L326.0 315.0 L334.0 318.0 L340.0 322.0 L345.0 324.0 L342.0 325.6 L336.0 325.0 L332.0 322.0 L326.0 320.0 L320.0 318.0Z M345.6 327.0 L350.0 325.6 L356.0 326.4 L360.0 329.0 L356.0 330.0 L352.0 332.0 L348.0 330.0Z M332.4 330.6 L336.0 330.0 L338.0 331.6 L334.0 332.4Z M363.0 330.0 L367.0 329.6 L367.6 331.6 L363.6 331.6Z M408.0 394.0 L410.0 391.0 L414.0 392.0 L413.0 395.0Z M380.0 564.4 L385.0 562.4 L389.6 564.0 L386.0 566.0Z M444.4 571.0 L450.4 572.4 L450.0 574.4 L445.6 573.0Z M40.0 720.0 L50.4 671.0 L60.0 672.6 L80.0 674.0 L96.0 676.4 L110.0 676.0 L128.0 677.0 L144.0 676.0 L140.0 674.0 L126.0 672.0 L123.0 669.0 L122.0 664.0 L125.0 662.4 L136.0 661.0 L146.0 660.0 L136.0 658.0 L124.0 655.6 L114.0 653.6 L109.0 649.0 L113.0 648.0 L124.0 650.0 L136.0 649.6 L144.0 648.0 L142.0 645.0 L152.0 643.6 L160.0 643.0 L170.0 641.0 L180.0 640.0 L188.0 643.0 L196.0 645.0 L200.0 641.0 L206.0 637.0 L210.0 635.6 L216.0 637.0 L224.0 637.0 L223.0 640.0 L228.0 642.4 L236.0 642.0 L238.0 638.0 L242.0 637.0 L244.0 640.0 L248.0 641.6 L250.0 639.0 L255.0 640.4 L260.0 641.0 L300.0 634.0 L312.0 634.0 L324.0 634.0 L332.0 634.4 L335.0 632.4 L343.0 635.6 L352.0 634.0 L360.0 633.6 L364.0 630.0 L360.0 626.0 L355.0 623.0 L352.0 624.0 L354.0 628.0 L350.0 630.0 L343.0 629.0 L338.0 628.0 L340.0 625.0 L345.0 624.0 L347.0 622.0 L352.0 621.0 L358.0 620.0 L363.0 617.0 L366.0 612.0 L370.0 608.0 L377.0 605.0 L386.0 603.0 L393.0 601.6 L397.0 602.4 L392.0 604.4 L385.0 607.0 L380.0 609.0 L375.0 612.0 L370.0 615.0 L369.0 619.0 L374.0 622.0 L377.0 628.0 L380.0 633.0 L382.0 638.0 L379.0 642.0 L373.0 645.0 L364.0 648.0 L374.0 647.0 L384.0 648.0 L396.0 651.0 L408.0 653.0 L420.0 654.4 L432.0 654.4 L444.0 653.6 L452.0 651.0 L460.0 649.0 L470.0 646.0 L480.0 642.0 L490.0 638.0 L500.0 635.0 L510.0 632.4 L517.0 631.0 L518.0 629.0 L520.0 630.0 L520.0 630.4 L524.0 629.0 L527.0 631.0 L530.0 628.0 L540.0 627.6 L543.0 625.6 L547.0 628.0 L550.0 629.6 L556.0 628.0 L564.0 625.6 L580.0 624.4 L600.0 625.0 L614.0 626.4 L628.0 624.4 L642.0 622.4 L643.0 619.6 L647.0 621.0 L654.0 623.6 L658.0 625.0 L662.0 621.0 L670.0 618.0 L680.0 616.4 L688.0 616.0 L691.0 613.0 L698.0 611.0 L706.0 612.0 L709.0 614.4 L716.0 615.6 L720.0 616.0 L720.0 616.4 L730.0 617.0 L743.0 618.0 L743.6 624.0 L747.0 626.0 L750.0 624.0 L758.0 623.6 L766.0 621.0 L774.0 618.0 L784.0 615.0 L796.0 613.6 L812.0 613.0 L826.0 613.0 L836.0 611.0 L844.0 612.4 L852.0 614.0 L860.0 611.0 L868.0 611.6 L874.0 613.6 L882.0 613.6 L890.0 612.0 L900.0 612.4 L909.0 615.0 L913.0 612.4 L920.0 611.6 L920.0 612.0 L924.0 611.6 L936.0 613.0 L949.0 614.4 L954.0 617.0 L960.0 619.0 L970.0 619.6 L980.0 621.0 L988.0 623.0 L998.0 624.4 L1000.0 627.0 L1004.0 625.6 L1012.0 626.4 L1020.0 629.0 L1024.4 630.4 L1023.0 633.6 L1018.0 635.6 L1013.0 637.0 L1008.0 640.0 L1003.0 642.0 L1001.6 645.0 L1004.0 649.0 L1008.0 652.0 L1011.0 653.0 L1004.0 653.0 L997.0 654.0 L994.6 656.4 L995.6 661.0 L1000.0 664.0 L1010.0 667.0 L1020.0 669.0 L1032.0 670.0 L1044.0 670.4 L1060.0 671.2 L1060.0 720.0Z M95.0 655.6 L99.0 653.6 L105.0 655.6 L104.0 658.4 L99.0 659.6Z M600.0 140.0 L600.0 158.4 L594.0 162.0 L587.0 166.0 L581.0 172.0 L574.0 179.0 L568.0 183.0 L564.0 187.0 L564.4 193.0 L568.0 197.0 L573.6 196.0 L579.0 193.0 L583.0 195.0 L585.0 201.0 L587.0 204.0 L589.0 207.0 L595.0 205.0 L598.0 202.0 L600.0 197.0 L599.0 190.0 L600.0 185.0 L604.0 182.0 L609.0 177.0 L610.0 174.0 L616.0 173.0 L620.0 174.0 L617.0 177.0 L612.0 180.0 L609.0 185.0 L610.0 190.0 L614.0 193.0 L621.0 191.6 L629.0 190.0 L632.0 192.4 L626.0 194.4 L618.0 195.0 L616.0 198.0 L617.0 201.0 L612.4 202.4 L610.0 205.0 L605.0 207.0 L600.0 209.0 L594.0 210.0 L589.0 210.0 L587.0 211.0 L584.0 210.0 L580.0 211.0 L579.0 207.0 L578.0 203.0 L580.0 199.0 L577.0 200.0 L574.4 204.0 L574.0 209.0 L572.0 212.0 L568.0 213.6 L565.0 216.0 L560.0 219.0 L556.0 223.6 L552.0 227.0 L546.0 228.4 L543.0 227.0 L541.0 229.0 L537.0 230.0 L538.0 232.0 L543.0 234.0 L545.0 238.0 L546.0 244.0 L543.0 246.0 L536.0 246.4 L530.0 247.0 L526.4 248.0 L525.0 254.0 L525.6 262.0 L525.0 267.0 L528.0 268.4 L532.4 271.0 L536.0 269.6 L542.0 268.0 L547.0 266.0 L549.6 262.0 L552.0 257.0 L557.0 252.0 L559.6 248.4 L565.0 247.6 L571.0 245.6 L576.0 243.6 L575.5 244.0 L577.5 245.5 L579.0 247.5 L580.0 250.0 L582.5 252.0 L585.0 253.5 L588.0 256.0 L591.0 258.5 L593.5 260.5 L595.0 263.0 L594.3 264.8 L593.2 264.2 L595.0 262.2 L596.2 259.5 L596.5 257.2 L598.5 256.8 L600.5 258.5 L598.5 256.2 L595.5 254.0 L592.5 251.8 L590.0 249.0 L587.5 246.2 L585.2 243.5 L583.5 241.2 L584.0 239.7 L586.0 239.0 L588.5 240.0 L590.5 242.0 L592.0 244.5 L595.0 247.2 L599.0 249.5 L603.0 251.8 L604.5 254.0 L604.2 257.0 L605.5 260.0 L607.0 263.0 L608.5 265.5 L609.5 268.0 L611.0 269.5 L613.0 269.5 L614.0 267.5 L613.5 265.0 L615.0 263.5 L615.5 260.0 L614.0 258.0 L612.5 257.0 L614.0 255.5 L617.0 254.8 L621.0 255.0 L623.5 256.0 L624.5 257.5 L624.0 259.5 L624.5 263.0 L625.2 266.0 L626.5 268.5 L629.0 270.5 L632.0 270.0 L635.0 268.5 L638.0 269.5 L642.0 270.5 L646.0 269.0 L649.5 268.5 L649.8 272.0 L649.0 277.0 L648.0 282.0 L647.0 285.0 L644.0 288.0 L640.0 287.5 L635.0 288.5 L630.0 289.0 L626.0 287.5 L622.0 286.0 L618.0 284.5 L614.0 283.0 L610.0 282.5 L607.0 284.0 L605.5 287.0 L603.5 290.0 L601.0 289.5 L598.0 287.5 L594.0 286.5 L591.5 284.5 L588.0 282.0 L584.0 280.5 L580.0 279.5 L577.5 278.0 L579.0 275.0 L580.0 272.0 L579.5 269.0 L577.0 268.0 L573.0 267.5 L570.0 268.2 L560.0 269.6 L552.0 270.0 L544.0 273.0 L538.0 272.4 L534.0 272.0 L532.0 275.0 L528.0 280.0 L524.0 288.0 L521.0 294.0 L517.0 299.0 L512.0 304.0 L508.0 311.0 L510.0 306.0 L506.0 313.0 L503.0 320.0 L504.4 327.0 L505.0 333.0 L503.0 339.0 L502.0 344.0 L504.0 351.0 L509.0 357.0 L513.0 363.0 L517.0 368.0 L522.0 372.0 L528.0 377.0 L534.0 375.0 L541.0 374.0 L548.0 373.0 L555.0 370.4 L561.0 370.0 L565.0 374.0 L570.0 377.0 L575.0 377.0 L576.4 382.0 L575.0 388.0 L574.0 394.0 L577.0 400.0 L581.0 406.0 L584.0 412.0 L586.0 418.0 L587.6 422.0 L589.0 428.0 L587.0 435.0 L583.6 442.0 L583.0 450.0 L585.0 456.0 L589.0 463.0 L591.6 472.0 L593.0 480.0 L596.0 488.0 L599.0 496.0 L601.0 503.0 L605.0 507.0 L612.0 506.0 L620.0 505.6 L626.0 503.0 L631.0 499.0 L635.0 494.0 L639.0 488.0 L641.6 483.0 L641.0 478.0 L644.0 475.0 L648.0 472.4 L648.4 468.0 L648.0 462.0 L649.6 457.0 L652.0 453.0 L656.0 449.0 L661.0 446.0 L663.6 441.0 L664.0 434.0 L663.0 433.0 L662.0 426.0 L660.0 419.0 L657.6 413.0 L659.0 407.0 L663.0 400.0 L668.0 394.0 L673.0 389.0 L679.0 382.0 L684.0 374.0 L688.0 366.0 L690.4 359.0 L692.0 352.4 L687.0 353.0 L680.0 354.4 L673.0 355.0 L671.0 350.0 L668.0 348.0 L665.0 342.0 L661.0 336.0 L657.0 330.0 L653.0 324.0 L651.6 318.0 L649.0 310.0 L645.6 303.0 L642.4 297.0 L641.0 292.0 L643.0 297.0 L645.0 299.0 L646.0 294.0 L647.6 299.0 L650.0 307.0 L654.0 314.0 L658.0 320.0 L662.0 327.0 L666.0 334.0 L669.0 342.0 L670.4 349.0 L676.0 347.0 L684.0 344.0 L691.0 340.0 L698.0 336.0 L704.0 333.0 L710.0 329.0 L714.0 323.0 L716.0 318.0 L712.0 313.0 L709.0 309.0 L707.0 305.0 L705.0 306.0 L704.0 309.0 L700.0 310.0 L695.0 310.0 L692.4 307.0 L690.0 302.0 L688.0 298.0 L685.0 294.0 L684.0 291.0 L686.4 290.0 L690.0 293.0 L694.0 297.0 L698.0 301.0 L703.0 303.0 L708.0 302.0 L709.6 305.6 L712.0 307.0 L720.0 307.0 L728.0 308.0 L734.0 307.0 L738.0 310.0 L741.0 314.0 L743.0 317.0 L746.0 320.0 L749.0 321.0 L751.0 318.0 L752.0 321.0 L753.0 328.0 L755.0 336.0 L758.0 344.0 L760.0 352.0 L763.0 360.0 L765.0 364.4 L768.0 361.0 L771.0 355.0 L772.0 348.0 L773.0 340.0 L776.0 336.0 L780.0 334.0 L786.0 328.0 L791.0 323.0 L795.0 319.0 L800.0 318.0 L804.0 316.0 L806.0 320.0 L810.0 326.0 L812.0 332.0 L813.0 338.0 L817.0 339.0 L821.0 336.0 L823.0 342.0 L823.6 350.0 L824.4 358.0 L825.6 362.0 L829.0 370.0 L833.6 379.0 L838.0 386.0 L841.0 392.0 L844.0 397.0 L846.4 397.6 L843.6 390.0 L840.0 383.0 L836.0 376.0 L831.6 370.0 L828.4 364.0 L827.2 358.0 L827.6 352.0 L829.0 347.0 L833.0 350.0 L838.0 357.0 L841.0 362.0 L846.0 358.0 L850.0 355.0 L853.0 350.0 L853.6 344.0 L851.0 338.0 L848.0 334.0 L845.0 330.0 L844.0 326.0 L847.0 321.6 L851.0 319.6 L855.0 321.0 L857.0 323.0 L860.0 319.0 L866.0 316.4 L872.0 315.0 L877.0 311.0 L881.0 306.0 L884.0 301.0 L887.0 296.0 L889.0 291.0 L888.0 286.0 L885.0 283.0 L886.0 279.0 L884.0 275.0 L882.0 271.0 L884.0 268.0 L880.0 265.0 L877.0 262.0 L881.0 259.0 L886.0 255.6 L889.0 256.0 L888.0 259.0 L892.0 261.0 L896.0 260.0 L894.0 265.0 L898.0 266.0 L900.0 270.0 L901.6 275.6 L905.0 276.0 L909.6 273.6 L908.0 268.0 L905.0 263.0 L902.4 259.0 L908.0 255.0 L913.0 250.0 L917.0 247.6 L921.0 248.0 L927.0 244.0 L932.0 238.0 L936.0 233.0 L940.0 228.0 L942.0 220.0 L942.4 214.0 L938.0 211.0 L933.0 210.0 L928.0 210.0 L925.6 208.4 L930.0 206.0 L936.0 202.0 L942.0 197.6 L948.0 194.4 L955.0 193.0 L962.0 192.4 L970.0 192.4 L978.0 193.0 L982.0 189.0 L989.0 186.0 L996.0 185.6 L1002.0 184.0 L1007.0 183.0 L1005.0 186.0 L1000.0 189.0 L996.0 192.0 L992.0 195.6 L988.0 199.6 L983.0 203.0 L981.6 208.0 L983.0 214.0 L985.0 221.0 L989.0 219.0 L993.0 215.0 L996.0 210.0 L1000.0 206.0 L1002.0 201.0 L1001.0 197.0 L1005.0 193.0 L1010.0 192.0 L1018.0 191.0 L1026.0 189.0 L1034.0 186.0 L1042.0 184.0 L1048.0 182.4 L1049.6 180.0 L1047.6 175.2 L1042.4 176.0 L1046.0 178.0 L1048.0 181.0 L1060.0 181.0 L1060.0 161.6 L1026.0 160.0 L1024.0 162.4 L1020.0 161.6 L1004.0 159.6 L992.0 158.8 L992.0 140.0Z M482.0 173.0 L485.0 170.0 L490.0 171.0 L495.0 170.0 L502.0 169.6 L508.0 171.0 L512.0 174.0 L510.0 177.0 L504.0 179.0 L498.0 180.4 L492.0 179.6 L488.0 178.0 L487.0 175.0 L483.0 175.0Z M530.5 198.0 L532.5 196.5 L536.0 197.5 L540.0 196.5 L541.5 198.5 L544.5 199.0 L543.5 202.0 L541.5 204.5 L544.0 206.0 L546.5 209.0 L549.0 212.0 L551.0 214.5 L553.5 215.5 L554.5 218.0 L553.5 221.0 L551.0 222.0 L548.0 222.0 L545.0 223.0 L541.0 224.0 L537.5 224.5 L535.0 224.0 L537.5 222.0 L541.5 220.5 L539.0 219.5 L536.5 218.5 L538.5 216.0 L540.5 214.0 L541.2 211.0 L539.0 210.0 L537.5 207.0 L535.5 205.5 L534.0 202.5 L533.5 200.0Z M522.5 212.0 L525.0 209.5 L529.0 208.0 L532.5 208.5 L534.0 211.0 L533.5 214.5 L532.0 217.5 L528.5 219.0 L524.5 219.5 L521.5 218.5 L523.0 215.5Z M585.0 265.0 L589.0 264.5 L593.0 265.2 L592.2 267.5 L590.5 269.2 L587.5 268.2 L585.2 266.8Z M572.5 255.0 L574.5 254.0 L576.5 255.0 L577.0 258.5 L576.0 261.5 L573.5 262.0 L572.2 259.5Z M573.5 249.0 L575.5 248.2 L576.5 250.5 L575.5 253.5 L574.0 253.0Z M615.0 273.2 L619.0 272.8 L623.0 274.0 L622.0 275.2 L618.0 275.0 L615.2 274.2Z M639.5 274.5 L643.0 273.0 L646.0 273.2 L644.0 275.0 L641.5 276.5 L639.8 275.8Z M772.4 360.0 L775.0 359.0 L777.6 364.0 L777.0 370.0 L774.0 372.0 L772.0 368.0Z M687.0 432.0 L689.0 437.0 L688.0 446.0 L686.0 454.0 L684.0 462.0 L682.0 470.0 L679.0 476.0 L675.0 477.0 L672.0 474.0 L670.6 468.0 L671.6 462.0 L673.6 457.0 L673.0 452.0 L674.4 447.0 L678.0 445.0 L682.0 441.0 L685.0 436.0Z M851.6 327.0 L855.0 324.4 L858.0 326.0 L856.4 330.0 L853.0 330.4Z M884.4 310.0 L887.6 307.0 L889.0 310.0 L887.6 315.0 L885.6 318.0 L884.0 314.0Z M943.6 212.0 L947.0 211.0 L949.6 215.0 L950.4 222.0 L949.0 230.0 L948.0 238.0 L946.0 243.0 L944.4 238.0 L945.0 230.0 L944.4 222.0 L943.0 217.0Z M943.6 245.0 L948.0 242.0 L952.0 244.0 L955.0 247.0 L952.0 249.0 L947.0 250.0 L944.4 254.0 L942.0 252.4 L941.0 249.0Z M942.0 254.0 L944.4 258.0 L944.0 264.0 L942.0 270.0 L938.0 274.0 L933.0 276.0 L928.0 278.0 L923.0 278.0 L918.0 281.0 L915.6 286.0 L913.0 288.0 L911.0 285.0 L910.0 281.0 L914.0 278.0 L919.0 275.0 L925.0 272.0 L930.0 268.0 L935.0 263.0 L939.0 258.0 L940.0 254.0Z M884.0 331.0 L889.0 329.6 L890.4 334.0 L889.0 340.0 L891.0 345.0 L895.0 348.0 L893.0 350.0 L888.0 348.0 L885.0 344.0 L884.0 338.0Z M889.0 354.0 L896.0 352.0 L899.0 355.0 L898.0 360.0 L901.6 363.0 L902.4 368.0 L899.0 373.0 L895.0 370.0 L892.0 368.0 L889.6 368.0 L892.0 364.0 L889.0 360.0Z M814.0 373.0 L819.0 374.0 L824.0 379.0 L830.0 385.0 L836.0 390.0 L841.0 395.0 L845.0 398.0 L845.6 403.0 L844.4 410.0 L839.6 410.0 L833.6 405.6 L828.0 399.0 L822.6 391.6 L818.0 383.6 L814.4 376.4Z M853.0 386.0 L858.0 384.0 L864.0 379.0 L870.0 373.0 L875.6 369.6 L880.0 374.0 L878.0 380.0 L879.0 386.0 L878.0 393.0 L874.0 398.0 L872.4 404.0 L868.0 405.0 L862.0 402.0 L857.0 400.0 L854.4 395.0 L853.0 390.0Z M844.0 411.6 L850.0 412.4 L857.0 413.6 L864.0 415.0 L868.0 417.0 L866.0 419.6 L860.0 418.0 L853.0 417.0 L847.0 415.0Z M869.0 418.0 L876.0 419.0 L884.0 419.6 L892.0 419.0 L900.0 418.0 L902.0 419.6 L894.0 421.0 L886.0 421.0 L878.0 420.6 L870.0 420.0Z M880.0 423.0 L884.0 422.4 L885.0 425.0 L881.0 424.4Z M893.0 424.0 L898.0 421.0 L902.4 419.0 L903.0 421.0 L899.0 423.6 L894.4 425.6Z M883.0 390.0 L889.0 388.0 L895.0 386.0 L898.0 387.0 L895.0 390.0 L889.0 391.0 L886.0 394.0 L888.0 397.0 L892.0 395.0 L895.0 397.0 L891.0 399.0 L889.0 402.0 L891.0 407.0 L889.0 409.0 L886.0 404.0 L885.0 401.0 L883.0 405.0 L883.6 410.0 L881.6 410.0 L881.0 404.0 L881.0 398.0 L882.0 393.0Z M904.0 385.0 L906.0 386.0 L905.0 390.0 L906.4 393.0 L904.4 393.0 L903.6 389.0Z M906.0 401.6 L912.0 401.0 L913.6 402.4 L908.0 403.2Z M914.0 395.0 L918.0 392.4 L922.0 394.0 L921.0 398.0 L918.0 399.0 L923.0 400.0 L928.0 398.0 L934.0 396.4 L940.0 399.0 L947.0 402.0 L954.0 406.0 L960.0 410.0 L961.0 412.4 L957.0 414.0 L959.0 418.0 L964.0 422.0 L968.0 425.0 L967.0 426.4 L961.0 424.0 L956.0 420.0 L952.0 418.0 L948.0 420.0 L943.0 421.6 L939.0 419.0 L935.0 418.0 L933.0 414.0 L934.0 409.0 L929.0 405.0 L924.0 403.0 L920.0 401.0 L917.0 399.0Z M963.0 411.0 L969.0 409.6 L974.0 407.0 L975.0 404.4 L969.0 400.0 L975.6 405.0 L975.0 408.0 L970.0 411.6 L964.0 412.4Z M889.0 365.0 L894.0 363.0 L900.0 361.0 L901.0 366.0 L899.0 372.0 L896.0 370.0 L895.0 366.0 L891.0 368.0Z M866.0 465.0 L869.0 462.0 L876.0 459.0 L884.0 456.0 L888.0 452.0 L889.0 448.0 L894.0 445.0 L898.0 441.0 L902.0 439.0 L905.0 440.0 L907.0 442.0 L910.0 440.0 L912.0 435.0 L915.0 432.0 L920.0 431.0 L926.0 432.0 L930.0 432.0 L929.6 437.0 L928.0 442.0 L932.0 444.0 L938.0 448.0 L941.0 450.0 L943.0 444.0 L944.0 436.0 L945.0 429.0 L947.0 428.0 L949.0 434.0 L951.6 440.0 L954.4 444.0 L957.0 451.0 L961.0 456.0 L965.0 461.0 L968.0 466.0 L971.0 471.0 L974.0 476.0 L976.0 482.0 L977.0 488.0 L975.0 496.0 L972.0 503.0 L969.0 510.0 L967.0 517.0 L962.0 518.0 L957.0 521.6 L952.0 519.0 L948.0 521.0 L942.0 519.0 L938.0 515.0 L935.0 512.0 L934.0 506.0 L932.4 501.6 L931.0 507.0 L929.0 504.0 L925.0 500.0 L920.0 498.0 L914.0 497.0 L908.0 497.6 L902.0 499.0 L896.0 502.0 L890.0 504.0 L884.0 507.0 L878.0 508.4 L873.0 508.4 L870.0 505.0 L871.0 500.0 L869.6 494.0 L868.0 488.0 L866.0 482.0 L865.6 476.0 L866.4 470.0Z M952.4 528.0 L957.0 527.6 L962.0 528.4 L961.0 533.0 L958.0 537.0 L954.4 535.6 L953.0 531.6Z M1030.0 507.0 L1033.0 511.0 L1036.0 515.0 L1038.0 514.0 L1040.0 517.0 L1045.0 517.6 L1045.6 520.0 L1042.4 524.0 L1040.0 529.0 L1037.0 530.0 L1035.0 526.0 L1033.0 523.0 L1035.0 519.0 L1034.0 514.0 L1031.0 510.0Z M1028.4 528.0 L1032.0 527.0 L1034.0 530.0 L1031.0 535.0 L1028.0 540.0 L1024.0 545.0 L1020.0 547.0 L1016.4 548.0 L1013.0 545.0 L1015.0 541.0 L1020.0 537.0 L1024.0 533.0Z M1006.4 459.6 L1010.0 462.0 L1013.6 465.6 L1012.0 466.4 L1008.4 463.6Z M1043.0 449.6 L1046.0 449.0 L1046.4 451.6 L1043.6 452.0Z" fill="#fff" stroke="#000" stroke-width="1.0" stroke-linejoin="round"/>
<path d="M626.5 251.5 L627.5 247.5 L630.0 244.0 L632.5 240.0 L635.0 237.0 L638.0 236.0 L641.0 237.5 L643.5 240.0 L646.0 239.0 L649.0 236.8 L653.0 235.0 L659.0 234.2 L656.0 235.8 L654.0 238.0 L656.0 240.0 L657.0 242.5 L660.0 245.0 L663.5 248.0 L665.8 250.5 L665.5 252.5 L663.0 254.0 L659.0 254.5 L655.0 254.0 L652.0 252.5 L649.0 251.2 L645.0 251.2 L641.0 252.0 L638.0 253.5 L635.0 254.5 L632.0 255.0 L630.0 256.0 L628.5 255.0 L627.0 253.5Z" fill="#0000ff"/>
<path d="M679.6 241.0 L684.0 237.0 L690.0 234.4 L696.0 235.0 L700.0 239.0 L696.0 242.0 L693.0 241.0 L691.0 244.0 L695.0 249.0 L699.0 253.0 L700.0 257.0 L698.0 260.0 L699.6 267.0 L695.0 269.0 L690.0 268.0 L686.0 264.0 L686.4 259.0 L684.0 253.0 L681.0 247.0Z" fill="#0000ff"/>
<path d="M640.0 168.0 L648.0 171.0 L656.0 172.0 L662.0 173.0 L660.0 176.0 L654.0 175.0 L656.0 178.0 L650.0 177.0 L647.0 173.0Z" fill="#0000ff"/>
<path d="M687.2 257.6 L698.8 257.6 L698.4 260.0 L686.8 260.4Z" fill="#00f0ff"/>
<path d="M686.6 260.0 L698.2 260.0 L699.4 266.8 L695.0 268.8 L690.0 267.8 L686.2 263.8Z" fill="#c8e11e"/>
<path d="M689.0 262.0 L698.0 262.0 L698.4 267.0 L694.0 268.6 L690.4 267.0Z" fill="#eef50f"/>
<path d="M665.0 159.2 L668.0 159.2 L668.0 167.0 L665.0 167.0Z" fill="#c8e11e"/>
<path d="M665.6 166.0 L672.0 166.0 L672.0 171.0 L665.6 171.0Z" fill="#00f0ff"/>
<path d="M668.0 169.0 L672.0 169.0 L672.0 171.4 L668.0 171.4Z" fill="#00aaff"/>
<path d="M630.0 244.0 L635.0 244.0 L635.0 240.0 L632.5 240.0Z M635.0 237.0 L641.0 237.5 L640.0 240.0 L635.0 240.0Z M643.5 240.0 L649.0 236.8 L649.0 242.0 L646.0 242.0 L642.0 242.0Z M654.0 235.0 L659.0 234.2 L655.0 237.5 L656.0 240.0 L655.0 241.0 L654.5 237.0Z M657.0 242.5 L660.0 245.0 L658.0 244.0Z M660.5 247.5 L665.8 250.5 L664.0 250.0 L660.0 247.2Z M636.0 250.0 L637.0 250.0 L637.0 252.0 L636.0 252.0Z M629.0 252.5 L636.0 252.0 L636.0 255.0 L629.0 255.5Z M642.0 250.0 L646.0 249.0 L650.0 250.0 L658.0 251.2 L660.5 252.5 L664.5 252.6 L663.0 254.2 L655.0 254.2 L649.0 251.4 L645.0 251.4 L641.0 252.2 L638.0 253.7 L636.5 254.0 L637.0 250.2Z M684.0 237.0 L690.0 234.4 L688.0 239.0 L684.0 242.0 L681.0 246.0 L680.0 241.0Z M690.0 242.0 L693.0 241.0 L691.0 244.0 L694.0 249.0 L691.0 249.0 L688.0 244.0Z M696.0 242.0 L700.0 239.0 L696.0 235.0 L694.0 238.0Z M695.0 249.0 L699.0 253.0 L700.0 257.0 L697.0 256.0Z M684.0 253.0 L686.4 259.0 L688.0 254.0Z" fill="#fff"/>
<path d="M626.5 251.5 L627.5 247.5 L630.0 244.0 L632.5 240.0 L635.0 237.0 L638.0 236.0 L641.0 237.5 L643.5 240.0 L646.0 239.0 L649.0 236.8 L653.0 235.0 L659.0 234.2 L656.0 235.8 L654.0 238.0 L656.0 240.0 L657.0 242.5 L660.0 245.0 L663.5 248.0 L665.8 250.5 L665.5 252.5 L663.0 254.0 L659.0 254.5 L655.0 254.0 L652.0 252.5 L649.0 251.2 L645.0 251.2 L641.0 252.0 L638.0 253.5 L635.0 254.5 L632.0 255.0 L630.0 256.0 L628.5 255.0 L627.0 253.5Z M679.6 241.0 L684.0 237.0 L690.0 234.4 L696.0 235.0 L700.0 239.0 L696.0 242.0 L693.0 241.0 L691.0 244.0 L695.0 249.0 L699.0 253.0 L700.0 257.0 L698.0 260.0 L699.6 267.0 L695.0 269.0 L690.0 268.0 L686.0 264.0 L686.4 259.0 L684.0 253.0 L681.0 247.0Z M640.0 168.0 L648.0 171.0 L656.0 172.0 L662.0 173.0 L660.0 176.0 L654.0 175.0 L656.0 178.0 L650.0 177.0 L647.0 173.0Z" fill="none" stroke="#000" stroke-width="1.15" stroke-linejoin="round"/>
<path d="M85.5 190.8 L87.5 190.2 L89.5 191.0 L88.0 192.0 L86.0 191.8Z M351.0 354.0 L352.4 356.0 L352.0 361.0 L350.6 360.0Z M294.0 235.5 L297.0 233.5 L301.0 230.5 L305.0 228.2 L309.0 229.0 L312.0 231.0 L314.5 233.5 L315.5 236.0 L313.0 237.0 L310.0 237.5 L307.0 236.0 L304.0 235.0 L300.0 235.0 L296.5 236.2Z M306.5 241.5 L308.5 240.0 L311.0 239.0 L312.5 240.0 L311.0 242.5 L310.0 246.0 L310.5 250.0 L309.0 252.5 L306.5 252.0 L305.8 248.5 L306.0 244.5Z M314.5 237.5 L318.0 237.5 L323.0 238.0 L326.5 239.5 L328.5 242.0 L327.0 243.5 L324.5 242.0 L323.5 244.5 L322.0 247.5 L320.5 246.5 L319.5 244.0 L317.5 245.5 L317.0 243.0 L318.0 240.5 L315.5 239.0Z M318.0 252.0 L322.0 250.0 L326.0 248.5 L330.0 248.2 L330.5 249.5 L327.0 251.2 L323.0 253.0 L319.5 253.5Z M328.5 246.5 L332.0 245.0 L336.0 244.0 L339.0 243.5 L338.8 245.5 L335.0 246.5 L331.0 247.5Z M264.0 203.0 L267.0 198.0 L267.6 200.0 L265.6 204.0Z M269.0 215.0 L272.0 214.4 L277.0 223.6 L275.6 224.4Z M275.6 213.0 L278.4 212.4 L282.4 221.0 L281.0 223.0 L278.0 219.0Z M203.0 171.0 L212.0 169.0 L222.0 168.0 L223.0 171.0 L218.0 173.0 L210.0 174.4 L214.0 171.6 L206.0 172.0Z M225.6 187.6 L232.0 185.0 L240.0 183.0 L247.0 182.4 L242.0 185.0 L235.0 187.0 L230.0 189.0Z M241.6 195.0 L247.0 193.0 L251.0 194.0 L246.0 196.0Z M633.0 187.6 L638.0 186.0 L641.6 188.4 L638.0 191.6 L634.0 191.0Z M646.0 183.6 L649.0 183.0 L651.0 187.0 L648.0 188.0Z M712.0 240.0 L716.0 236.4 L721.0 236.0 L721.0 241.0 L717.0 246.0 L712.4 245.0Z M586.0 344.0 L589.0 343.6 L592.4 348.0 L590.0 350.0 L587.6 348.0Z M638.0 392.0 L643.0 390.4 L645.0 394.0 L643.0 399.6 L639.0 400.4 L637.6 396.0Z M631.0 402.4 L632.4 406.0 L634.4 414.0 L636.4 420.0 L634.8 420.4 L632.4 414.0 L630.4 407.0Z M644.4 423.6 L646.4 428.0 L648.0 435.0 L647.2 439.6 L645.6 436.0 L644.4 430.0Z M115.6 324.4 L118.8 322.8 L120.4 326.0 L118.0 328.4Z" fill="#fff" stroke="#000" stroke-width="1.1" stroke-linejoin="round"/>
<path d="M73.5 179.8 L79.5 180.8 M331.0 303.0 L335.0 304.0 M333.0 309.0 L334.0 312.0 M379.0 337.2 L379.6 338.4 M380.0 342.0 L380.8 343.2 M296.0 392.0 L297.2 394.4 M421.0 592.4 L425.0 594.0 M1012.0 649.2 L1021.0 650.0 M529.0 184.2 L532.4 183.6 M556.0 259.0 L559.6 260.0 M755.0 241.0 L754.0 239.0 L758.0 236.4 L770.0 235.6 L760.0 238.0 M601.0 199.0 L602.4 201.0 M612.4 195.0 L614.0 198.0 M580.0 205.6 L582.4 204.4 L584.0 207.0 L582.0 209.6 L580.0 208.0 M838.0 220.0 L848.0 214.0 L854.0 206.0 L856.0 210.0 L850.0 217.2 L840.0 221.2 M698.0 349.6 L701.6 350.4 M503.0 297.0 L507.0 299.0 M510.0 295.0 L513.0 297.0 M702.4 461.6 L704.0 462.4 M709.2 458.6 L710.0 459.4 M741.0 554.4 L745.0 556.8 L742.4 557.6 M958.0 243.0 L968.0 237.6 M981.0 224.4 L984.0 222.4 M1029.0 214.4 L1032.0 215.6 M916.0 280.0 L923.0 276.4 L928.0 277.2 M875.6 363.0 L882.4 355.0 M820.6 386.0 L821.6 388.4 M824.4 395.0 L825.6 397.6 M979.0 410.0 L982.0 411.6 L983.0 414.4 M993.0 423.0 L1000.0 426.0 M923.0 410.0 L924.4 414.0 M915.0 416.0 L916.0 418.0 M901.2 402.0 L902.8 402.8 M911.0 430.0 L916.0 429.6 M821.0 387.0 L822.4 389.6 M825.0 395.0 L826.4 397.6 M849.0 399.6 L850.4 401.2 M843.6 397.0 L845.6 400.0 M1013.6 441.0 L1016.0 446.0 M1047.0 446.0 L1050.0 447.0 M993.0 422.4 L996.0 424.0 M998.0 425.6 L1000.4 427.0 M105.2 318.0 L108.4 319.6 M111.2 321.2 L114.0 322.8 M296.0 391.2 L297.2 394.4 M69.2 436.0 L74.0 438.0 M134.0 449.2 L135.6 450.8 M80.0 215.0 L87.0 212.0 M58.4 219.0 L59.6 219.4" fill="none" stroke="#000" stroke-width="1.8" stroke-linecap="round"/>
<path d="M170.0 161.0 L182.0 159.6 L200.0 160.0 L214.0 161.0 L230.0 160.4 L234.0 164.0 L244.0 166.0 L250.0 163.0 L258.0 164.0 L266.0 161.0 L274.0 166.0 L282.0 163.0 L288.0 161.0 L298.0 160.0 M174.0 199.0 L179.0 204.0 L178.0 207.0 L182.0 209.0 L185.0 212.0 L184.0 216.0 L189.0 218.0 L192.0 222.4 L198.0 224.4 L203.0 226.4 L208.0 229.6 M181.0 212.0 L182.4 215.6 L185.0 218.0 M194.0 223.0 L200.0 226.0 L205.0 230.4 M633.0 159.0 L642.0 161.0 L650.0 163.0 L658.0 166.0 L664.0 170.0 L670.0 171.0 L673.0 170.4 L674.0 166.0 L678.0 164.0 L680.0 167.0 L684.0 165.0 L690.0 163.0 L698.0 162.0 L706.0 163.0 L714.0 162.0 L718.0 161.0 M722.0 160.0 L730.0 161.0 L738.0 162.0 L741.0 164.0 M752.0 160.0 L756.0 161.0 L759.0 162.0 L756.0 167.0 L750.0 170.0 L746.0 169.6 L752.0 166.0 L754.0 163.0 M685.0 161.0 L687.0 159.6 L689.0 161.0 L687.0 162.4 L685.0 161.0" fill="none" stroke="#000" stroke-width="1.1" stroke-linejoin="round"/>
<path d="M216.7 158.0 V691.4 M383.3 158.0 V691.4 M550.0 158.0 V691.4 M716.7 158.0 V691.4 M883.3 158.0 V691.4 M50.6 191.6 H1050.0 M50.6 291.6 H1050.0 M50.6 391.6 H1050.0 M50.6 491.6 H1050.0 M50.6 591.6 H1050.0" fill="none" stroke="#9a9a9a" stroke-width="1.1" stroke-dasharray="1.6 7.4"/>
</g>
<rect x="50.6" y="158.0" width="999.4" height="533.4" fill="none" stroke="#000" stroke-width="1.8"/>
<path d="M45.2 191.6 H50.6 M45.2 291.6 H50.6 M45.2 391.6 H50.6 M45.2 491.6 H50.6 M45.2 591.6 H50.6 M45.2 691.6 H50.6" fill="none" stroke="#000" stroke-width="1.6"/>
<path d="M24.50 188.05 L24.10 187.10 L22.90 186.63 L22.10 186.63 L20.90 187.10 L20.10 188.53 L19.70 190.90 L19.70 193.28 L20.10 195.18 L20.90 196.13 L22.10 196.60 L22.50 196.60 L23.70 196.13 L24.50 195.18 L24.90 193.75 L24.90 193.28 L24.50 191.85 L23.70 190.90 L22.50 190.43 L22.10 190.43 L20.90 190.90 L20.10 191.85 L19.70 193.28 M29.70 186.63 L28.50 187.10 L27.70 188.53 L27.30 190.90 L27.30 192.33 L27.70 194.70 L28.50 196.13 L29.70 196.60 L30.50 196.60 L31.70 196.13 L32.50 194.70 L32.90 192.33 L32.90 190.90 L32.50 188.53 L31.70 187.10 L30.50 186.63 L29.70 186.63 M35.70 186.63 L35.70 196.60 M35.70 186.63 L41.30 196.60 M41.30 186.63 L41.30 196.60 M20.10 286.62 L24.50 286.62 L22.10 290.43 L23.30 290.43 L24.10 290.90 L24.50 291.38 L24.90 292.80 L24.90 293.75 L24.50 295.18 L23.70 296.12 L22.50 296.60 L21.30 296.60 L20.10 296.12 L19.70 295.65 L19.30 294.70 M29.70 286.62 L28.50 287.10 L27.70 288.53 L27.30 290.90 L27.30 292.33 L27.70 294.70 L28.50 296.12 L29.70 296.60 L30.50 296.60 L31.70 296.12 L32.50 294.70 L32.90 292.33 L32.90 290.90 L32.50 288.53 L31.70 287.10 L30.50 286.62 L29.70 286.62 M35.70 286.62 L35.70 296.60 M35.70 286.62 L41.30 296.60 M41.30 286.62 L41.30 296.60 M27.70 386.62 L27.70 396.60 M27.70 386.62 L32.90 386.62 M27.70 391.38 L30.90 391.38 M27.70 396.60 L32.90 396.60 M37.30 386.62 L36.50 387.10 L35.70 388.05 L35.30 389.00 L34.90 390.43 L34.90 392.80 L35.30 394.23 L35.70 395.18 L36.50 396.12 L37.30 396.60 L38.90 396.60 L39.70 396.12 L40.50 395.18 L40.90 394.23 L41.30 392.80 L41.30 390.43 L40.90 389.00 L40.50 388.05 L39.70 387.10 L38.90 386.62 L37.30 386.62 M38.50 394.70 L40.90 397.55 M20.50 486.62 L24.90 486.62 L22.50 490.43 L23.70 490.43 L24.50 490.90 L24.90 491.38 L25.30 492.80 L25.30 493.75 L24.90 495.18 L24.10 496.12 L22.90 496.60 L21.70 496.60 L20.50 496.12 L20.10 495.65 L19.70 494.70 M30.10 486.62 L28.90 487.10 L28.10 488.53 L27.70 490.90 L27.70 492.33 L28.10 494.70 L28.90 496.12 L30.10 496.60 L30.90 496.60 L32.10 496.12 L32.90 494.70 L33.30 492.33 L33.30 490.90 L32.90 488.53 L32.10 487.10 L30.90 486.62 L30.10 486.62 M41.30 488.05 L40.50 487.10 L39.30 486.62 L37.70 486.62 L36.50 487.10 L35.70 488.05 L35.70 489.00 L36.10 489.95 L36.50 490.43 L37.30 490.90 L39.70 491.85 L40.50 492.33 L40.90 492.80 L41.30 493.75 L41.30 495.18 L40.50 496.12 L39.30 496.60 L37.70 496.60 L36.50 496.12 L35.70 495.18 M24.90 588.05 L24.50 587.10 L23.30 586.62 L22.50 586.62 L21.30 587.10 L20.50 588.52 L20.10 590.90 L20.10 593.27 L20.50 595.18 L21.30 596.12 L22.50 596.60 L22.90 596.60 L24.10 596.12 L24.90 595.18 L25.30 593.75 L25.30 593.27 L24.90 591.85 L24.10 590.90 L22.90 590.43 L22.50 590.43 L21.30 590.90 L20.50 591.85 L20.10 593.27 M30.10 586.62 L28.90 587.10 L28.10 588.52 L27.70 590.90 L27.70 592.33 L28.10 594.70 L28.90 596.12 L30.10 596.60 L30.90 596.60 L32.10 596.12 L32.90 594.70 L33.30 592.33 L33.30 590.90 L32.90 588.52 L32.10 587.10 L30.90 586.62 L30.10 586.62 M41.30 588.05 L40.50 587.10 L39.30 586.62 L37.70 586.62 L36.50 587.10 L35.70 588.05 L35.70 589.00 L36.10 589.95 L36.50 590.43 L37.30 590.90 L39.70 591.85 L40.50 592.33 L40.90 592.80 L41.30 593.75 L41.30 595.18 L40.50 596.12 L39.30 596.60 L37.70 596.60 L36.50 596.12 L35.70 595.18 M24.90 689.95 L24.50 691.38 L23.70 692.33 L22.50 692.80 L22.10 692.80 L20.90 692.33 L20.10 691.38 L19.70 689.95 L19.70 689.48 L20.10 688.05 L20.90 687.10 L22.10 686.62 L22.50 686.62 L23.70 687.10 L24.50 688.05 L24.90 689.95 L24.90 692.33 L24.50 694.70 L23.70 696.12 L22.50 696.60 L21.70 696.60 L20.50 696.12 L20.10 695.18 M30.10 686.62 L28.90 687.10 L28.10 688.52 L27.70 690.90 L27.70 692.33 L28.10 694.70 L28.90 696.12 L30.10 696.60 L30.90 696.60 L32.10 696.12 L32.90 694.70 L33.30 692.33 L33.30 690.90 L32.90 688.52 L32.10 687.10 L30.90 686.62 L30.10 686.62 M41.30 688.05 L40.50 687.10 L39.30 686.62 L37.70 686.62 L36.50 687.10 L35.70 688.05 L35.70 689.00 L36.10 689.95 L36.50 690.43 L37.30 690.90 L39.70 691.85 L40.50 692.33 L40.90 692.80 L41.30 693.75 L41.30 695.18 L40.50 696.12 L39.30 696.60 L37.70 696.60 L36.50 696.12 L35.70 695.18 M40.30 700.92 L41.10 700.45 L42.30 699.02 L42.30 709.00 M49.10 699.02 L47.90 699.50 L47.50 700.45 L47.50 701.40 L47.90 702.35 L48.70 702.83 L50.30 703.30 L51.50 703.77 L52.30 704.73 L52.70 705.67 L52.70 707.10 L52.30 708.05 L51.90 708.52 L50.70 709.00 L49.10 709.00 L47.90 708.52 L47.50 708.05 L47.10 707.10 L47.10 705.67 L47.50 704.73 L48.30 703.77 L49.50 703.30 L51.10 702.83 L51.90 702.35 L52.30 701.40 L52.30 700.45 L51.90 699.50 L50.70 699.02 L49.10 699.02 M57.50 699.02 L56.30 699.50 L55.50 700.92 L55.10 703.30 L55.10 704.73 L55.50 707.10 L56.30 708.52 L57.50 709.00 L58.30 709.00 L59.50 708.52 L60.30 707.10 L60.70 704.73 L60.70 703.30 L60.30 700.92 L59.50 699.50 L58.30 699.02 L57.50 699.02 M201.97 700.92 L202.77 700.45 L203.97 699.02 L203.97 709.00 M209.17 701.40 L209.17 700.92 L209.57 699.98 L209.97 699.50 L210.77 699.02 L212.37 699.02 L213.17 699.50 L213.57 699.98 L213.97 700.92 L213.97 701.88 L213.57 702.83 L212.77 704.25 L208.77 709.00 L214.37 709.00 M219.17 699.02 L217.97 699.50 L217.17 700.92 L216.77 703.30 L216.77 704.73 L217.17 707.10 L217.97 708.52 L219.17 709.00 L219.97 709.00 L221.17 708.52 L221.97 707.10 L222.37 704.73 L222.37 703.30 L221.97 700.92 L221.17 699.50 L219.97 699.02 L219.17 699.02 M224.37 699.02 L226.37 709.00 M228.37 699.02 L226.37 709.00 M228.37 699.02 L230.37 709.00 M232.37 699.02 L230.37 709.00 M377.03 700.45 L376.63 699.50 L375.43 699.02 L374.63 699.02 L373.43 699.50 L372.63 700.92 L372.23 703.30 L372.23 705.67 L372.63 707.58 L373.43 708.52 L374.63 709.00 L375.03 709.00 L376.23 708.52 L377.03 707.58 L377.43 706.15 L377.43 705.67 L377.03 704.25 L376.23 703.30 L375.03 702.83 L374.63 702.83 L373.43 703.30 L372.63 704.25 L372.23 705.67 M382.23 699.02 L381.03 699.50 L380.23 700.92 L379.83 703.30 L379.83 704.73 L380.23 707.10 L381.03 708.52 L382.23 709.00 L383.03 709.00 L384.23 708.52 L385.03 707.10 L385.43 704.73 L385.43 703.30 L385.03 700.92 L384.23 699.50 L383.03 699.02 L382.23 699.02 M387.43 699.02 L389.43 709.00 M391.43 699.02 L389.43 709.00 M391.43 699.02 L393.43 709.00 M395.43 699.02 L393.43 709.00 M550.10 699.02 L548.90 699.50 L548.10 700.92 L547.70 703.30 L547.70 704.73 L548.10 707.10 L548.90 708.52 L550.10 709.00 L550.90 709.00 L552.10 708.52 L552.90 707.10 L553.30 704.73 L553.30 703.30 L552.90 700.92 L552.10 699.50 L550.90 699.02 L550.10 699.02 M711.37 700.45 L710.97 699.50 L709.77 699.02 L708.97 699.02 L707.77 699.50 L706.97 700.92 L706.57 703.30 L706.57 705.67 L706.97 707.58 L707.77 708.52 L708.97 709.00 L709.37 709.00 L710.57 708.52 L711.37 707.58 L711.77 706.15 L711.77 705.67 L711.37 704.25 L710.57 703.30 L709.37 702.83 L708.97 702.83 L707.77 703.30 L706.97 704.25 L706.57 705.67 M716.57 699.02 L715.37 699.50 L714.57 700.92 L714.17 703.30 L714.17 704.73 L714.57 707.10 L715.37 708.52 L716.57 709.00 L717.37 709.00 L718.57 708.52 L719.37 707.10 L719.77 704.73 L719.77 703.30 L719.37 700.92 L718.57 699.50 L717.37 699.02 L716.57 699.02 M722.57 699.02 L722.57 709.00 M722.57 699.02 L727.77 699.02 M722.57 703.77 L725.77 703.77 M722.57 709.00 L727.77 709.00 M869.63 700.92 L870.43 700.45 L871.63 699.02 L871.63 709.00 M876.83 701.40 L876.83 700.92 L877.23 699.98 L877.63 699.50 L878.43 699.02 L880.03 699.02 L880.83 699.50 L881.23 699.98 L881.63 700.92 L881.63 701.88 L881.23 702.83 L880.43 704.25 L876.43 709.00 L882.03 709.00 M886.83 699.02 L885.63 699.50 L884.83 700.92 L884.43 703.30 L884.43 704.73 L884.83 707.10 L885.63 708.52 L886.83 709.00 L887.63 709.00 L888.83 708.52 L889.63 707.10 L890.03 704.73 L890.03 703.30 L889.63 700.92 L888.83 699.50 L887.63 699.02 L886.83 699.02 M892.83 699.02 L892.83 709.00 M892.83 699.02 L898.03 699.02 M892.83 703.77 L896.03 703.77 M892.83 709.00 L898.03 709.00 M1040.30 700.92 L1041.10 700.45 L1042.30 699.02 L1042.30 709.00 M1049.10 699.02 L1047.90 699.50 L1047.50 700.45 L1047.50 701.40 L1047.90 702.35 L1048.70 702.83 L1050.30 703.30 L1051.50 703.77 L1052.30 704.73 L1052.70 705.67 L1052.70 707.10 L1052.30 708.05 L1051.90 708.52 L1050.70 709.00 L1049.10 709.00 L1047.90 708.52 L1047.50 708.05 L1047.10 707.10 L1047.10 705.67 L1047.50 704.73 L1048.30 703.77 L1049.50 703.30 L1051.10 702.83 L1051.90 702.35 L1052.30 701.40 L1052.30 700.45 L1051.90 699.50 L1050.70 699.02 L1049.10 699.02 M1057.50 699.02 L1056.30 699.50 L1055.50 700.92 L1055.10 703.30 L1055.10 704.73 L1055.50 707.10 L1056.30 708.52 L1057.50 709.00 L1058.30 709.00 L1059.50 708.52 L1060.30 707.10 L1060.70 704.73 L1060.70 703.30 L1060.30 700.92 L1059.50 699.50 L1058.30 699.02 L1057.50 699.02" fill="none" stroke="#000" stroke-width="1.45" stroke-linecap="round" stroke-linejoin="round"/>
<path d="M472.04 93.78 L470.26 91.80 L467.58 90.81 L464.02 90.81 L461.35 91.80 L459.56 93.78 L459.56 95.76 L460.45 97.74 L461.35 98.73 L463.13 99.72 L468.47 101.70 L470.26 102.69 L471.15 103.68 L472.04 105.66 L472.04 108.63 L470.26 110.61 L467.58 111.60 L464.02 111.60 L461.35 110.61 L459.56 108.63 M488.08 97.74 L488.08 111.60 M488.08 100.71 L486.29 98.73 L484.51 97.74 L481.84 97.74 L480.06 98.73 L478.27 100.71 L477.38 103.68 L477.38 105.66 L478.27 108.63 L480.06 110.61 L481.84 111.60 L484.51 111.60 L486.29 110.61 L488.08 108.63 M495.20 90.81 L495.20 111.60 M501.44 90.81 L502.33 91.80 L503.22 90.81 L502.33 89.82 L501.44 90.81 M502.33 97.74 L502.33 111.60 M509.46 97.74 L509.46 111.60 M509.46 101.70 L512.13 98.73 L513.91 97.74 L516.59 97.74 L518.37 98.73 L519.26 101.70 L519.26 111.60 M525.50 90.81 L526.39 91.80 L527.28 90.81 L526.39 89.82 L525.50 90.81 M526.39 97.74 L526.39 111.60 M534.41 90.81 L534.41 107.64 L535.30 110.61 L537.08 111.60 L538.86 111.60 M531.73 97.74 L537.97 97.74 M542.43 97.74 L547.77 111.60 M553.12 97.74 L547.77 111.60 L545.99 115.56 L544.21 117.54 L542.43 118.53 L541.54 118.53 M578.96 86.85 L577.18 88.83 L575.39 91.80 L573.61 95.76 L572.72 100.71 L572.72 104.67 L573.61 109.62 L575.39 113.58 L577.18 116.55 L578.96 118.53 M585.19 97.74 L585.19 118.53 M585.19 100.71 L586.98 98.73 L588.76 97.74 L591.43 97.74 L593.21 98.73 L595.00 100.71 L595.89 103.68 L595.89 105.66 L595.00 108.63 L593.21 110.61 L591.43 111.60 L588.76 111.60 L586.98 110.61 L585.19 108.63 M611.03 100.71 L610.14 98.73 L607.47 97.74 L604.80 97.74 L602.12 98.73 L601.23 100.71 L602.12 102.69 L603.91 103.68 L608.36 104.67 L610.14 105.66 L611.03 107.64 L611.03 108.63 L610.14 110.61 L607.47 111.60 L604.80 111.60 L602.12 110.61 L601.23 108.63 M617.27 97.74 L617.27 107.64 L618.16 110.61 L619.94 111.60 L622.62 111.60 L624.40 110.61 L627.07 107.64 M627.07 97.74 L627.07 111.60 M633.31 86.85 L635.09 88.83 L636.87 91.80 L638.65 95.76 L639.55 100.71 L639.55 104.67 L638.65 109.62 L636.87 113.58 L635.09 116.55 L633.31 118.53 M425.34 132.50 L441.14 132.50 M449.91 124.50 L451.67 123.50 L454.30 120.50 L454.30 141.50 M465.71 125.50 L465.71 124.50 L466.59 122.50 L467.47 121.50 L469.22 120.50 L472.73 120.50 L474.49 121.50 L475.37 122.50 L476.24 124.50 L476.24 126.50 L475.37 128.50 L473.61 131.50 L464.83 141.50 L477.12 141.50 M494.67 120.50 L482.39 141.50 M482.39 120.50 L494.67 120.50 M482.39 141.50 L494.67 141.50 M502.57 124.50 L504.33 123.50 L506.96 120.50 L506.96 141.50 M521.88 120.50 L519.25 121.50 L518.37 123.50 L518.37 125.50 L519.25 127.50 L521.00 128.50 L524.51 129.50 L527.14 130.50 L528.90 132.50 L529.78 134.50 L529.78 137.50 L528.90 139.50 L528.02 140.50 L525.39 141.50 L521.88 141.50 L519.25 140.50 L518.37 139.50 L517.49 137.50 L517.49 134.50 L518.37 132.50 L520.12 130.50 L522.76 129.50 L526.27 128.50 L528.02 127.50 L528.90 125.50 L528.90 123.50 L528.02 121.50 L525.39 120.50 L521.88 120.50 M535.92 120.50 L535.92 141.50 M535.92 120.50 L542.06 120.50 L544.70 121.50 L546.45 123.50 L547.33 125.50 L548.21 128.50 L548.21 133.50 L547.33 136.50 L546.45 138.50 L544.70 140.50 L542.06 141.50 L535.92 141.50 M554.35 120.50 L554.35 141.50 M554.35 120.50 L565.76 120.50 M554.35 130.50 L561.37 130.50 M554.35 141.50 L565.76 141.50 M583.31 125.50 L582.43 123.50 L580.68 121.50 L578.92 120.50 L575.41 120.50 L573.66 121.50 L571.90 123.50 L571.02 125.50 L570.15 128.50 L570.15 133.50 L571.02 136.50 L571.90 138.50 L573.66 140.50 L575.41 141.50 L578.92 141.50 L580.68 140.50 L582.43 138.50 L583.31 136.50 M589.45 125.50 L589.45 124.50 L590.33 122.50 L591.21 121.50 L592.96 120.50 L596.47 120.50 L598.23 121.50 L599.11 122.50 L599.98 124.50 L599.98 126.50 L599.11 128.50 L597.35 131.50 L588.58 141.50 L600.86 141.50 M611.39 120.50 L608.76 121.50 L607.01 124.50 L606.13 129.50 L606.13 132.50 L607.01 137.50 L608.76 140.50 L611.39 141.50 L613.15 141.50 L615.78 140.50 L617.54 137.50 L618.41 132.50 L618.41 129.50 L617.54 124.50 L615.78 121.50 L613.15 120.50 L611.39 120.50 M624.56 125.50 L624.56 124.50 L625.43 122.50 L626.31 121.50 L628.07 120.50 L631.58 120.50 L633.33 121.50 L634.21 122.50 L635.09 124.50 L635.09 126.50 L634.21 128.50 L632.46 131.50 L623.68 141.50 L635.97 141.50 M651.76 120.50 L642.99 120.50 L642.11 129.50 L642.99 128.50 L645.62 127.50 L648.25 127.50 L650.89 128.50 L652.64 130.50 L653.52 133.50 L653.52 135.50 L652.64 138.50 L650.89 140.50 L648.25 141.50 L645.62 141.50 L642.99 140.50 L642.11 139.50 L641.23 137.50 M659.66 132.50 L675.46 132.50" fill="none" stroke="#000" stroke-width="1.5" stroke-linecap="round" stroke-linejoin="round"/>
<g stroke="#000" stroke-width="1.2" stroke-linejoin="miter">
<polygon points="50.3,734.9 95.6,721.5 95.6,748.3" fill="#0000ff"/>
<rect x="95.60" y="721.5" width="45.45" height="26.8" fill="#0032ff"/>
<rect x="141.05" y="721.5" width="45.45" height="26.8" fill="#0073ff"/>
<rect x="186.50" y="721.5" width="45.45" height="26.8" fill="#00aaff"/>
<rect x="231.95" y="721.5" width="45.45" height="26.8" fill="#00f0ff"/>
<rect x="277.40" y="721.5" width="45.45" height="26.8" fill="#1ef0dc"/>
<rect x="322.85" y="721.5" width="45.45" height="26.8" fill="#41ebaa"/>
<rect x="368.30" y="721.5" width="45.45" height="26.8" fill="#69dc7d"/>
<rect x="413.75" y="721.5" width="45.45" height="26.8" fill="#8cd24b"/>
<rect x="459.20" y="721.5" width="45.45" height="26.8" fill="#aad72d"/>
<rect x="504.65" y="721.5" width="45.45" height="26.8" fill="#c8e11e"/>
<rect x="550.10" y="721.5" width="45.45" height="26.8" fill="#dceb19"/>
<rect x="595.55" y="721.5" width="45.45" height="26.8" fill="#eef50f"/>
<rect x="641.00" y="721.5" width="45.45" height="26.8" fill="#fff800"/>
<rect x="686.45" y="721.5" width="45.45" height="26.8" fill="#ffe100"/>
<rect x="731.90" y="721.5" width="45.45" height="26.8" fill="#ffcd00"/>
<rect x="777.35" y="721.5" width="45.45" height="26.8" fill="#ffb400"/>
<rect x="822.80" y="721.5" width="45.45" height="26.8" fill="#ff9600"/>
<rect x="868.25" y="721.5" width="45.45" height="26.8" fill="#ff7300"/>
<rect x="913.70" y="721.5" width="45.45" height="26.8" fill="#ff4b00"/>
<rect x="959.15" y="721.5" width="45.45" height="26.8" fill="#ff2300"/>
<polygon points="1050.0,734.9 1004.6,721.5 1004.6,748.3" fill="#ff0000"/>
</g>
<path d="M86.37 754.98 L93.36 754.98 L89.55 759.94 L91.45 759.94 L92.72 760.56 L93.36 761.18 L93.99 763.04 L93.99 764.28 L93.36 766.14 L92.09 767.38 L90.18 768.00 L88.28 768.00 L86.37 767.38 L85.74 766.76 L85.10 765.52 M101.61 754.98 L99.71 755.60 L98.44 757.46 L97.80 760.56 L97.80 762.42 L98.44 765.52 L99.71 767.38 L101.61 768.00 L102.88 768.00 L104.79 767.38 L106.06 765.52 L106.69 762.42 L106.69 760.56 L106.06 757.46 L104.79 755.60 L102.88 754.98 L101.61 754.98 M177.28 754.98 L184.26 754.98 L180.45 759.94 L182.36 759.94 L183.63 760.56 L184.26 761.18 L184.90 763.04 L184.90 764.28 L184.26 766.14 L182.99 767.38 L181.09 768.00 L179.18 768.00 L177.28 767.38 L176.64 766.76 L176.01 765.52 M190.61 757.46 L191.88 756.84 L193.79 754.98 L193.79 768.00 M268.18 754.98 L275.16 754.98 L271.35 759.94 L273.25 759.94 L274.52 760.56 L275.16 761.18 L275.80 763.04 L275.80 764.28 L275.16 766.14 L273.89 767.38 L271.99 768.00 L270.08 768.00 L268.18 767.38 L267.54 766.76 L266.90 765.52 M280.24 758.08 L280.24 757.46 L280.88 756.22 L281.51 755.60 L282.78 754.98 L285.32 754.98 L286.59 755.60 L287.23 756.22 L287.86 757.46 L287.86 758.70 L287.23 759.94 L285.95 761.80 L279.61 768.00 L288.50 768.00 M359.08 754.98 L366.06 754.98 L362.25 759.94 L364.16 759.94 L365.43 760.56 L366.06 761.18 L366.70 763.04 L366.70 764.28 L366.06 766.14 L364.79 767.38 L362.89 768.00 L360.98 768.00 L359.08 767.38 L358.44 766.76 L357.81 765.52 M371.78 754.98 L378.76 754.98 L374.95 759.94 L376.86 759.94 L378.13 760.56 L378.76 761.18 L379.40 763.04 L379.40 764.28 L378.76 766.14 L377.49 767.38 L375.59 768.00 L373.68 768.00 L371.78 767.38 L371.14 766.76 L370.51 765.52 M449.98 754.98 L456.96 754.98 L453.15 759.94 L455.06 759.94 L456.33 760.56 L456.96 761.18 L457.60 763.04 L457.60 764.28 L456.96 766.14 L455.69 767.38 L453.79 768.00 L451.88 768.00 L449.98 767.38 L449.34 766.76 L448.71 765.52 M467.76 754.98 L461.41 763.66 L470.93 763.66 M467.76 754.98 L467.76 768.00 M540.87 754.98 L547.86 754.98 L544.05 759.94 L545.95 759.94 L547.22 760.56 L547.86 761.18 L548.49 763.04 L548.49 764.28 L547.86 766.14 L546.59 767.38 L544.68 768.00 L542.78 768.00 L540.87 767.38 L540.24 766.76 L539.60 765.52 M559.92 754.98 L553.57 754.98 L552.94 760.56 L553.57 759.94 L555.48 759.32 L557.38 759.32 L559.29 759.94 L560.56 761.18 L561.19 763.04 L561.19 764.28 L560.56 766.14 L559.29 767.38 L557.38 768.00 L555.48 768.00 L553.57 767.38 L552.94 766.76 L552.30 765.52 M631.77 754.98 L638.76 754.98 L634.95 759.94 L636.86 759.94 L638.12 760.56 L638.76 761.18 L639.39 763.04 L639.39 764.28 L638.76 766.14 L637.49 767.38 L635.59 768.00 L633.68 768.00 L631.77 767.38 L631.14 766.76 L630.50 765.52 M651.46 756.84 L650.83 755.60 L648.92 754.98 L647.65 754.98 L645.75 755.60 L644.48 757.46 L643.84 760.56 L643.84 763.66 L644.48 766.14 L645.75 767.38 L647.65 768.00 L648.28 768.00 L650.19 767.38 L651.46 766.14 L652.10 764.28 L652.10 763.66 L651.46 761.80 L650.19 760.56 L648.28 759.94 L647.65 759.94 L645.75 760.56 L644.48 761.80 L643.84 763.66 M722.67 754.98 L729.66 754.98 L725.85 759.94 L727.75 759.94 L729.02 760.56 L729.66 761.18 L730.29 763.04 L730.29 764.28 L729.66 766.14 L728.39 767.38 L726.49 768.00 L724.58 768.00 L722.67 767.38 L722.04 766.76 L721.40 765.52 M743.00 754.98 L736.64 768.00 M734.11 754.98 L743.00 754.98 M813.57 754.98 L820.56 754.98 L816.75 759.94 L818.65 759.94 L819.92 760.56 L820.56 761.18 L821.19 763.04 L821.19 764.28 L820.56 766.14 L819.29 767.38 L817.38 768.00 L815.48 768.00 L813.57 767.38 L812.94 766.76 L812.30 765.52 M828.18 754.98 L826.27 755.60 L825.64 756.84 L825.64 758.08 L826.27 759.32 L827.54 759.94 L830.08 760.56 L831.99 761.18 L833.26 762.42 L833.89 763.66 L833.89 765.52 L833.26 766.76 L832.62 767.38 L830.72 768.00 L828.18 768.00 L826.27 767.38 L825.64 766.76 L825.00 765.52 L825.00 763.66 L825.64 762.42 L826.91 761.18 L828.81 760.56 L831.36 759.94 L832.62 759.32 L833.26 758.08 L833.26 756.84 L832.62 755.60 L830.72 754.98 L828.18 754.98 M904.47 754.98 L911.46 754.98 L907.65 759.94 L909.55 759.94 L910.82 760.56 L911.46 761.18 L912.09 763.04 L912.09 764.28 L911.46 766.14 L910.19 767.38 L908.28 768.00 L906.38 768.00 L904.47 767.38 L903.84 766.76 L903.20 765.52 M924.16 759.32 L923.52 761.18 L922.25 762.42 L920.35 763.04 L919.71 763.04 L917.81 762.42 L916.54 761.18 L915.90 759.32 L915.90 758.70 L916.54 756.84 L917.81 755.60 L919.71 754.98 L920.35 754.98 L922.25 755.60 L923.52 756.84 L924.16 759.32 L924.16 762.42 L923.52 765.52 L922.25 767.38 L920.35 768.00 L919.08 768.00 L917.17 767.38 L916.54 766.14 M1000.45 754.98 L994.10 763.66 L1003.63 763.66 M1000.45 754.98 L1000.45 768.00 M1010.61 754.98 L1008.71 755.60 L1007.44 757.46 L1006.80 760.56 L1006.80 762.42 L1007.44 765.52 L1008.71 767.38 L1010.61 768.00 L1011.88 768.00 L1013.79 767.38 L1015.06 765.52 L1015.69 762.42 L1015.69 760.56 L1015.06 757.46 L1013.79 755.60 L1011.88 754.98 L1010.61 754.98" fill="none" stroke="#000" stroke-width="1.2" stroke-linecap="round" stroke-linejoin="round"/>
</svg></body></html>
